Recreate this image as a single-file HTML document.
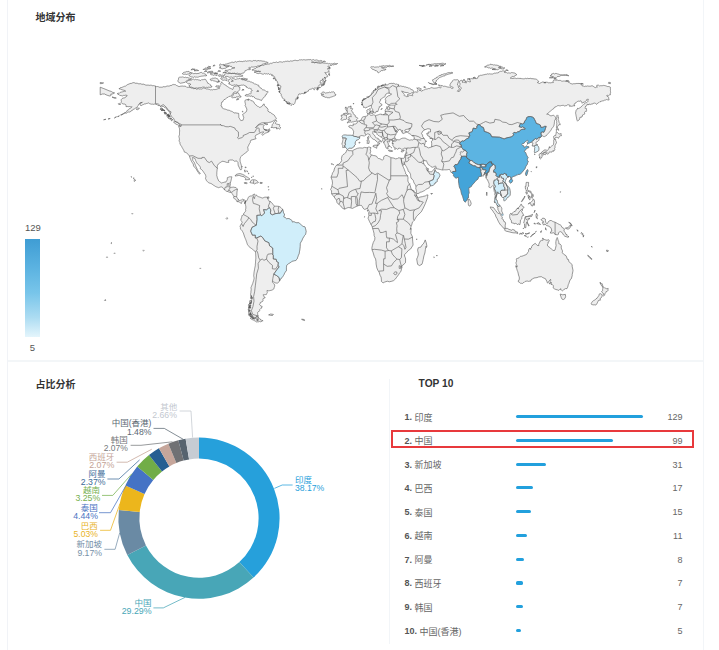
<!DOCTYPE html>
<html><head><meta charset="utf-8"><style>
*{margin:0;padding:0;box-sizing:border-box}
html,body{width:719px;height:650px;overflow:hidden;background:#fff;font-family:"Liberation Sans","Noto Sans CJK SC",sans-serif}
.ab{position:absolute}
.vl{position:absolute;width:1px;background:#f1f3f7}
.hl{position:absolute;height:2px;background:#f3f6f8}
.ttl{position:absolute;font-size:10px;font-weight:bold;color:#333;line-height:12px;white-space:nowrap}
.rk{position:absolute;left:404.5px;font-size:9px;line-height:12px;color:#666;white-space:nowrap}
.rk b{color:#555}
.rk span{position:relative;top:0.5px}
.bar{position:absolute;left:516px;height:3.1px;border-radius:1.6px;background:#22a0dd}
.val{position:absolute;right:36.6px;font-size:9px;line-height:12px;color:#666;text-align:right}
.pl{font-size:8.5px;font-family:"Liberation Sans","Noto Sans CJK SC",sans-serif}
.pp{font-size:9px;font-family:"Liberation Sans","Noto Sans CJK SC",sans-serif}
svg{position:absolute;left:0;top:0}
</style></head><body>
<div class="vl" style="left:7px;top:0;height:650px"></div>
<div class="vl" style="left:703px;top:0;height:650px;background:#f2f5f8"></div>
<div class="hl" style="left:8px;top:360px;width:695px"></div>
<div class="vl" style="left:389px;top:379px;height:265px;background:#f2f5f8"></div>
<div class="ttl" style="left:35.5px;top:11.5px">地域分布</div>
<svg width="719" height="360" viewBox="0 0 719 360">
<path d="M346.9,149.8L347.8,149.8L348.8,150.8L350.2,150.6L352.2,150.9L354.0,149.8L356.0,148.9L357.4,148.3L359.8,147.9L362.8,148.1L364.4,147.4L366.2,147.7L367.2,147.7L368.8,147.0L369.8,147.2L371.0,147.7L370.3,149.6L370.7,151.7L369.9,153.6L371.0,154.5L371.6,154.9L373.2,155.5L375.0,155.7L376.7,156.4L377.4,157.7L378.5,158.5L379.8,158.7L381.4,159.6L382.4,160.2L383.6,158.9L383.6,157.2L384.5,156.0L385.8,155.3L387.7,155.8L388.6,156.4L390.3,157.2L391.0,157.7L393.8,158.1L395.7,158.9L397.4,158.5L398.0,157.9L399.8,157.9L401.1,158.3L401.5,161.1L401.5,162.4L402.3,164.7L402.9,166.2L403.6,167.7L404.3,169.4L405.0,171.3L405.6,172.4L405.6,173.8L407.3,175.3L407.6,176.0L408.0,177.7L407.9,179.6L407.9,181.1L408.4,182.2L409.0,183.6L409.7,184.1L410.6,187.0L411.0,189.0L413.3,190.7L413.7,190.3L414.2,191.9L415.4,192.4L415.9,193.2L416.7,193.9L415.8,195.6L416.8,195.6L417.2,196.8L418.5,197.7L419.9,197.1L422.7,196.6L423.9,196.2L425.2,196.0L426.4,195.2L428.0,194.9L427.6,196.6L427.7,197.3L426.7,200.0L425.4,203.5L423.3,208.1L421.3,211.8L417.8,215.2L416.4,216.7L414.2,220.5L413.4,221.3L412.4,222.2L411.6,225.4L411.1,226.3L410.3,229.6L411.0,230.5L410.8,233.3L412.4,236.7L412.7,241.1L413.1,245.0L410.6,249.0L408.3,250.5L406.7,252.5L404.5,254.6L404.6,256.1L405.2,257.5L405.6,259.0L405.5,262.7L402.9,265.2L401.8,265.7L401.9,266.7L401.5,269.1L400.9,271.6L399.7,272.7L398.5,274.8L396.7,277.2L395.5,278.9L393.6,280.6L391.9,281.2L389.3,281.8L387.3,281.2L384.6,282.1L383.1,282.9L382.1,282.1L381.4,281.4L381.4,279.9L381.1,277.1L380.0,275.2L379.1,272.0L378.0,270.6L376.8,267.8L376.1,264.0L376.0,261.6L375.6,259.0L374.3,256.7L373.0,252.2L372.0,249.9L371.9,247.8L372.4,245.4L373.3,242.4L374.1,240.9L374.7,239.9L374.9,237.5L374.1,235.6L374.0,233.3L373.3,230.5L372.7,228.8L372.2,226.7L371.0,224.3L369.5,221.6L368.5,219.2L368.1,218.4L368.5,216.7L368.9,215.4L368.6,213.2L369.2,211.5L368.3,209.9L367.8,209.0L367.3,208.3L365.9,209.0L364.8,209.4L364.2,209.2L363.0,208.1L362.4,206.7L361.4,205.4L360.4,205.4L359.1,205.4L356.9,206.2L354.6,207.3L352.5,208.4L350.6,207.9L348.8,207.5L347.1,207.9L346.1,208.4L344.7,209.2L342.5,208.3L340.8,206.0L339.1,204.5L337.7,203.5L337.0,202.6L336.6,200.5L335.9,199.4L334.9,198.1L333.9,196.6L333.2,195.6L331.8,194.3L331.5,192.4L331.6,190.9L330.6,189.6L331.4,187.9L331.9,186.0L332.5,183.2L332.2,180.4L331.1,177.7L331.4,176.0L332.2,174.5L332.2,173.9L332.9,172.4L333.9,171.1L334.3,169.0L334.9,167.7L335.6,166.4L336.7,165.1L337.4,164.5L338.7,164.3L340.6,162.4L341.7,160.6L341.4,158.5L342.1,155.8L343.0,154.7L344.4,153.8L345.5,153.0L346.5,151.1L346.9,149.8ZM118.8,116.5L117.5,116.6L119.4,115.7ZM116.5,116.8L114.4,118.0L115.5,117.2ZM110.2,118.5L108.0,119.1L108.7,118.7ZM105.9,119.3L103.6,119.8L104.8,119.5ZM121.6,115.1L120.6,114.9L122.2,114.4ZM220.7,71.2L217.9,71.4L218.6,70.5ZM486.7,192.0L487.1,193.7L486.8,195.6L486.4,194.3ZM263.9,123.2L267.9,124.2L266.7,124.7L264.3,123.8ZM516.0,259.3L517.0,258.4L517.7,258.4L519.0,257.8L520.7,256.1L521.7,256.3L523.6,255.6L526.6,254.4L527.7,252.5L528.5,251.6L528.6,249.9L529.6,248.2L530.7,249.5L530.3,248.6L531.4,248.0L531.6,246.7L532.7,245.0L534.0,244.3L535.1,243.3L536.3,244.3L537.2,245.4L538.9,245.6L538.7,244.4L540.4,240.9L541.2,240.3L541.9,240.5L543.2,240.1L543.2,239.2L542.1,238.6L542.9,238.2L544.5,239.5L545.7,239.9L547.0,240.3L548.0,239.9L548.7,239.7L549.3,240.7L548.4,242.4L547.9,242.4L548.2,243.1L547.2,245.0L548.4,246.7L549.6,247.3L551.3,249.0L552.7,250.1L554.0,250.7L555.0,250.1L555.5,248.2L556.1,245.6L555.8,243.1L555.9,241.6L556.2,239.9L556.7,238.6L557.2,237.5L557.6,238.4L557.8,239.5L558.1,239.7L558.2,240.5L558.6,241.4L558.8,242.6L558.8,243.7L560.2,244.1L561.3,245.6L561.2,248.0L561.6,249.0L562.5,250.9L562.3,252.7L563.5,254.1L566.1,255.8L567.4,259.3L568.0,259.0L568.6,259.9L568.8,261.6L570.1,262.7L572.2,264.6L572.1,266.1L573.0,270.3L572.8,271.8L572.2,274.6L572.2,275.7L571.3,278.8L570.3,279.5L569.7,281.0L569.3,282.0L568.8,283.7L568.3,284.6L568.0,285.9L567.7,287.2L567.0,288.6L565.4,288.6L564.2,289.3L563.5,290.1L562.6,290.8L561.5,290.1L560.6,289.7L560.8,288.7L560.1,289.1L558.8,290.4L557.5,289.9L555.9,289.5L554.5,288.9L553.1,287.8L553.4,286.3L553.1,285.3L552.4,284.6L551.0,284.4L551.4,283.8L551.1,282.1L550.4,283.5L549.1,283.8L550.0,282.7L550.1,281.6L550.7,280.6L550.6,279.3L548.6,281.6L547.9,283.1L546.9,282.3L546.9,281.2L546.0,279.9L545.6,278.8L545.6,278.8L542.8,277.6L541.4,276.7L538.8,276.9L537.0,277.6L534.0,278.0L532.6,278.9L531.3,279.5L530.6,281.2L529.3,281.2L528.5,281.4L527.2,281.0L526.2,281.2L525.2,281.4L524.3,282.3L523.2,282.7L522.5,283.5L521.5,283.3L520.5,283.3L519.1,282.1L518.3,281.8L518.3,280.6L519.2,280.1L519.2,279.3L519.4,278.0L519.2,276.9L518.5,275.0L518.3,273.9L518.1,272.9L517.7,271.6L517.7,271.0L517.1,270.3L516.8,268.8L516.1,267.3L515.8,266.5L516.6,267.3L516.0,265.6L517.1,266.9L517.1,265.9L516.4,264.4L516.3,263.9L516.0,263.3L516.1,262.2L516.4,261.8L516.6,260.8L516.4,259.7L516.0,259.3ZM229.2,66.1L228.5,66.6L227.7,66.9L226.9,67.0L226.4,67.8L225.6,68.2L224.7,68.4L223.7,68.5L222.8,68.8L221.9,68.8L221.0,68.3L220.2,67.9L219.3,67.8L220.2,67.9L221.0,67.4L220.2,66.8L219.9,65.9L219.6,65.0L219.9,64.2L220.7,64.0L221.5,64.6L222.3,64.7L223.4,64.4L224.0,65.5L224.9,65.4L225.7,65.9L226.6,65.8L227.5,65.9L228.4,65.7L229.2,66.1ZM268.2,91.8L267.8,92.4L267.3,92.9L267.0,93.6L266.3,94.1L266.1,95.0L265.3,95.3L265.2,96.3L264.4,96.8L263.8,97.4L263.4,98.2L262.8,98.7L262.1,99.2L261.8,99.9L261.5,100.6L260.7,100.2L259.8,99.8L258.9,99.5L258.1,99.1L257.1,99.2L256.3,98.7L255.4,98.4L254.7,98.0L254.4,97.2L253.7,96.6L252.6,96.9L252.1,96.0L251.2,95.9L250.2,96.4L249.3,95.9L248.3,96.1L247.5,96.2L246.7,96.1L245.9,95.6L245.1,95.9L245.4,95.1L246.0,94.6L246.9,94.4L247.8,94.7L248.7,94.2L249.5,93.7L250.4,94.0L251.0,93.3L251.1,92.6L250.9,91.8L251.4,90.9L252.3,90.6L251.8,90.0L251.2,89.5L251.2,88.7L250.3,88.7L249.5,88.2L248.5,88.4L247.8,87.7L246.9,87.6L246.3,87.2L246.5,86.5L245.6,86.4L245.2,85.5L244.3,85.4L243.6,85.0L242.7,85.2L241.8,85.1L240.9,85.3L240.0,85.5L239.1,85.5L238.2,85.9L237.4,85.1L236.5,84.8L235.6,85.2L234.7,84.8L233.8,85.1L232.9,85.4L232.0,85.4L231.1,85.1L230.4,84.5L229.5,84.2L228.6,84.0L229.0,83.2L229.9,82.9L229.0,82.4L228.4,81.7L227.8,81.0L228.2,80.5L228.8,80.0L228.9,79.3L229.8,79.2L230.6,78.6L231.7,79.2L232.5,78.7L233.4,78.6L234.1,78.9L235.0,79.0L235.6,79.5L236.4,79.2L237.3,78.8L238.3,78.9L239.1,78.4L240.0,78.3L240.6,79.0L241.5,79.0L242.1,79.7L242.9,79.9L243.9,79.7L244.7,80.1L245.5,80.4L246.5,80.6L247.3,81.1L248.3,81.2L249.2,81.1L249.9,81.7L250.7,82.0L251.7,82.1L252.6,82.7L253.4,82.9L254.0,83.4L254.5,84.1L255.4,84.0L256.3,84.3L257.1,85.0L258.1,85.0L258.8,85.4L258.7,86.5L259.5,86.9L260.2,87.4L260.6,88.2L261.5,88.4L261.9,89.2L262.6,89.8L263.5,89.9L264.5,89.9L265.1,90.6L265.7,91.2L266.5,91.6L267.4,91.4L268.2,91.8ZM245.1,167.0L246.2,167.2L245.9,167.9L244.9,167.3ZM244.8,169.8L245.3,171.5L245.1,172.2L244.5,170.6ZM358.7,142.7L359.8,142.1L360.1,142.7L359.4,143.0ZM185.0,82.3L184.0,82.6L183.1,82.7L182.1,83.0L181.1,83.1L180.2,83.3L179.4,82.8L178.7,82.0L177.9,81.6L177.9,80.6L178.4,79.7L178.5,78.8L178.7,77.7L179.6,77.2L180.6,77.1L181.6,77.1L182.6,76.9L183.6,77.2L184.5,77.5L185.6,77.2L186.5,77.6L187.5,77.4L188.2,78.1L189.2,77.7L189.9,78.6L190.7,78.8L191.6,78.8L190.7,78.9L190.1,79.8L189.1,79.7L188.2,79.9L187.4,80.3L186.8,80.9L186.0,81.2L185.7,81.9L185.0,82.3ZM217.1,75.5L216.2,75.4L215.3,75.1L214.3,74.9L213.3,75.4L212.4,74.8L211.5,75.0L210.9,74.2L210.1,73.7L211.1,73.7L212.0,73.1L213.0,72.9L214.0,73.1L215.0,73.1L215.6,73.7L216.5,73.7L217.1,74.2L217.1,74.9ZM367.3,210.1L367.9,210.5L367.6,211.3ZM509.8,214.5L510.6,213.5L511.7,214.1L512.9,212.6L513.9,211.6L515.4,211.3L516.7,208.8L518.1,208.1L519.0,207.3L520.1,205.8L520.8,204.3L521.5,204.3L522.1,206.0L522.9,206.6L524.2,207.1L523.2,208.1L522.5,209.2L522.4,210.7L521.5,211.3L522.5,213.0L523.8,215.4L522.5,215.6L521.8,217.1L521.8,218.8L520.4,220.1L520.4,222.0L519.8,224.8L519.0,224.1L518.1,223.9L517.5,224.7L516.6,223.7L515.8,223.3L514.1,223.9L513.6,223.0L512.6,223.0L511.5,222.8L511.3,220.3L510.6,219.8L509.9,218.2L509.6,216.5L509.9,214.8L509.8,214.5ZM534.8,223.1L535.5,224.1L533.8,223.5ZM332.9,164.1L333.5,164.7L333.1,164.9ZM331.4,163.6L332.3,163.8L331.8,164.5ZM268.3,129.6L269.4,128.7L270.0,130.8L268.2,131.3ZM321.7,188.5L322.0,189.2L321.7,189.2ZM100.2,87.2L103.8,88.6L107.0,89.9L109.0,90.8L111.3,91.4L112.1,92.1L114.6,92.9L113.1,93.8L110.7,94.2L111.2,95.2L110.0,96.1L107.9,95.5L106.0,94.8L104.6,94.0L102.4,94.0L100.2,94.8ZM239.1,98.9L236.6,100.1L237.0,98.7ZM416.7,238.8L416.9,239.7L416.5,239.5ZM223.5,76.5L222.5,76.4L221.5,76.5L220.6,76.0L219.5,76.4L218.6,76.1L218.7,75.5L218.8,74.8L219.8,74.7L220.8,74.8L221.8,75.4L222.8,75.0L223.5,75.6ZM367.6,137.0L368.6,136.2L368.9,137.8L368.3,139.3L367.6,138.5ZM388.7,150.0L392.6,150.8L392.4,151.4L390.3,151.5L388.6,150.8ZM235.0,176.0L236.1,174.5L238.0,173.9L240.2,173.6L242.4,174.3L244.5,175.3L245.8,176.4L247.6,177.3L250.0,179.0L249.3,179.6L245.3,179.8L245.6,178.5L244.2,176.8L241.4,176.2L239.5,175.5L238.5,175.5L236.6,175.8L235.0,176.0ZM401.1,151.1L402.1,150.6L404.3,150.0L403.5,151.3L402.1,152.1L401.1,151.5ZM242.6,76.3L241.7,76.4L240.8,76.4L239.9,76.2L239.0,76.3L238.1,76.4L237.2,76.9L236.3,76.9L235.3,76.5L234.4,77.0L233.4,77.1L232.5,77.4L231.5,77.0L230.6,77.1L229.7,77.3L228.9,77.1L228.1,76.7L227.2,76.4L226.4,76.4L225.5,76.5L224.8,76.1L224.3,75.6L224.2,74.8L224.8,74.1L225.7,73.8L226.4,73.3L227.2,73.6L228.1,73.6L229.0,73.7L229.9,73.3L230.7,73.4L231.6,73.5L232.5,73.2L233.3,73.3L234.1,73.5L235.0,73.4L235.8,73.9L236.6,74.1L237.4,74.3L238.3,74.3L239.1,74.6L240.0,74.7L240.9,74.7L241.7,75.3L242.6,75.2L242.6,75.7L242.6,76.3ZM207.9,69.3L206.9,69.4L205.9,69.3L204.9,69.3L203.9,69.3L203.0,69.7L203.6,69.1L204.6,69.1L205.1,68.3L205.8,67.8L206.8,68.2L207.8,68.3L208.7,68.5L209.8,68.1L210.8,68.4L209.9,68.8L208.8,68.8ZM268.2,62.5L267.4,63.1L266.4,62.9L265.7,63.7L264.8,63.5L263.9,63.8L263.1,64.2L262.2,64.4L261.5,65.0L260.9,65.7L260.0,65.4L259.3,65.9L258.5,65.9L257.5,66.0L256.6,66.5L255.6,66.6L254.7,66.9L253.8,67.0L252.9,67.1L252.0,67.0L251.1,67.0L250.4,67.7L249.4,67.4L248.6,67.8L249.1,68.6L250.1,68.6L250.7,69.1L249.9,69.7L249.0,69.5L248.2,69.7L247.3,69.7L246.6,70.2L245.9,70.7L245.1,70.6L244.9,71.6L244.3,72.1L243.9,72.9L243.1,73.3L242.0,73.1L241.2,73.7L240.2,73.9L239.3,73.5L238.3,73.7L237.3,73.1L236.3,73.5L235.3,73.8L234.4,73.1L233.5,73.5L232.5,73.5L231.6,73.6L230.6,73.3L229.7,72.9L228.8,73.3L228.3,72.5L227.7,71.7L226.8,71.2L225.8,71.0L224.9,70.6L225.8,70.2L226.7,70.3L227.6,70.2L228.5,69.9L229.3,69.5L230.4,69.8L231.2,69.1L232.0,68.5L232.9,68.3L233.8,67.9L234.9,67.8L233.9,67.9L232.9,67.8L232.0,67.3L231.5,66.9L231.3,66.3L230.4,66.4L229.4,65.9L228.5,66.2L227.5,66.1L226.6,66.3L225.6,66.1L224.8,66.0L224.3,65.3L223.5,65.0L224.5,64.9L225.3,64.0L226.4,64.0L227.2,63.9L228.0,63.3L229.0,63.4L229.7,62.9L230.6,62.7L231.4,62.3L232.2,62.1L233.2,62.5L234.0,62.2L234.9,62.0L235.7,61.5L236.7,62.2L237.5,61.6L238.4,61.5L239.2,61.2L240.2,61.4L241.1,61.5L241.9,61.4L242.9,61.7L243.8,61.1L244.8,61.2L245.7,60.8L246.7,61.3L247.6,60.9L248.5,60.9L249.5,60.7L250.4,60.8L251.4,61.1L252.3,61.2L253.3,60.5L254.2,60.7L255.2,60.4L256.1,60.9L257.1,61.1L258.0,60.3L258.9,60.7L259.9,60.9L260.9,60.7L261.9,61.0L262.9,61.2L263.9,61.2L264.8,61.4L265.6,61.9L266.5,61.9L267.3,62.3L268.2,62.5ZM347.4,149.4L346.9,148.9L346.4,148.3L345.9,147.7L345.5,147.2L344.8,147.2L343.8,147.4L342.7,147.6L342.7,146.7L342.8,145.9L342.8,145.1L342.3,144.6L341.8,144.2L342.1,143.4L342.3,142.7L342.5,141.9L342.7,141.1L342.8,140.4L343.0,139.6L342.8,138.8L342.7,137.9L342.4,137.2L342.1,136.4L342.8,135.8L343.5,135.1L344.5,135.1L345.4,135.1L346.4,135.2L347.5,135.3L348.4,135.3L349.3,135.3L350.2,135.3L351.0,135.4L351.9,135.4L352.7,135.5L353.1,134.6L353.5,133.8L353.5,132.9L353.6,132.0L353.6,131.2L353.2,130.5L352.8,129.8L352.5,129.1L351.9,128.3L351.0,128.0L350.1,127.6L349.2,127.2L348.9,126.6L348.6,126.1L349.6,125.7L350.6,125.3L351.5,125.5L352.3,125.7L353.3,125.5L353.2,124.7L353.0,123.8L353.6,124.2L354.5,124.1L355.4,124.0L356.3,123.5L357.1,123.1L357.4,122.2L357.6,121.4L358.2,121.2L358.8,121.0L359.6,120.7L360.3,120.4L360.8,119.9L361.4,119.5L361.7,118.5L362.0,117.6L362.5,117.2L363.1,116.8L364.1,116.6L365.1,116.5L365.8,116.3L366.5,116.1L367.5,115.7L367.9,114.9L367.7,114.2L367.5,113.4L367.3,112.9L366.8,112.5L367.1,111.6L366.8,110.6L367.0,110.0L367.5,109.7L368.6,109.4L369.5,108.7L370.3,108.5L370.1,109.1L370.2,109.7L370.0,110.2L369.8,110.8L370.6,111.4L369.9,111.6L369.6,112.3L369.2,112.7L368.9,113.2L369.2,113.8L369.5,114.4L370.2,114.9L370.9,115.5L371.7,115.3L372.6,115.1L373.2,114.9L373.7,114.8L374.3,115.0L374.9,115.3L375.4,115.7L376.3,115.4L377.3,115.1L378.3,114.8L379.2,114.4L380.3,114.2L381.4,114.0L381.7,114.8L382.4,114.7L383.2,114.6L384.2,114.2L385.2,113.8L385.3,113.1L385.3,112.3L385.3,111.5L385.1,110.8L385.4,109.9L385.9,109.1L386.4,108.4L387.3,108.3L387.5,109.3L388.3,109.9L388.8,109.3L389.4,109.5L389.4,108.4L389.9,107.4L389.2,107.1L388.6,106.8L388.4,106.3L388.6,105.7L389.6,105.5L390.5,105.2L391.4,105.0L392.5,105.1L393.6,105.1L394.7,105.1L395.4,104.7L396.2,104.4L397.1,104.4L396.7,103.9L396.1,103.6L395.4,103.5L394.7,103.3L393.8,103.3L392.9,103.4L391.7,103.3L390.7,103.8L389.8,104.5L388.8,104.5L387.7,104.6L387.2,103.6L386.4,103.3L385.6,103.1L385.4,102.0L385.9,101.0L385.7,100.1L385.2,99.3L385.5,98.6L385.9,98.0L386.4,97.3L387.2,96.8L387.8,96.1L388.7,95.7L389.7,95.6L390.3,94.8L391.3,94.6L391.2,93.6L390.5,93.8L390.0,93.3L389.0,93.0L387.9,93.3L387.3,93.3L386.8,93.6L385.9,94.1L385.5,95.0L385.2,95.6L385.2,96.3L384.3,97.0L383.4,97.4L382.5,98.0L381.7,98.7L380.8,99.0L380.4,99.9L380.4,100.9L379.7,101.6L379.5,102.3L379.8,102.9L380.5,103.6L381.4,104.0L381.9,104.4L382.1,105.1L381.1,105.4L380.7,106.3L379.9,106.7L379.1,106.8L379.3,107.9L378.7,108.7L378.5,109.8L378.0,110.8L377.8,111.6L377.0,111.4L376.1,111.4L376.0,112.3L375.3,112.9L374.4,112.8L373.6,112.9L373.3,112.2L373.2,111.6L372.8,110.8L372.7,110.0L372.6,109.2L372.0,108.5L371.7,107.8L371.2,107.2L371.4,106.5L370.9,105.9L370.2,105.3L369.8,106.1L368.8,106.3L367.8,106.6L367.2,107.4L366.1,107.4L365.2,108.0L364.5,107.4L363.5,107.4L363.6,106.7L363.1,106.1L362.5,105.1L362.4,104.2L362.4,103.3L362.0,102.4L362.2,101.6L362.4,100.8L362.7,100.1L363.4,99.8L364.1,99.3L365.2,99.2L365.9,98.4L366.8,98.0L367.5,97.4L368.4,97.1L369.2,96.7L369.5,95.9L370.3,95.5L371.1,95.0L371.7,94.2L372.2,93.3L373.2,92.9L373.5,91.9L374.3,91.2L374.6,90.4L375.6,90.2L376.0,89.5L376.7,89.3L377.0,88.6L377.9,88.2L378.8,87.6L379.5,86.7L380.5,86.3L381.6,86.2L382.5,85.7L383.2,85.3L384.1,85.5L384.8,85.2L385.9,85.1L386.9,84.8L387.8,84.8L388.5,84.2L389.3,83.6L390.3,83.5L391.2,83.3L392.1,83.5L393.0,83.4L393.8,83.3L394.6,83.7L395.4,84.2L396.4,84.0L397.3,84.4L398.3,84.4L399.1,85.0L398.5,85.5L397.8,85.9L398.7,85.6L399.5,86.3L400.4,85.9L401.3,86.1L402.2,86.5L403.2,86.2L404.0,86.9L404.9,86.9L405.9,87.0L406.8,87.5L407.7,87.6L408.4,88.1L409.4,87.9L410.0,88.6L410.7,89.0L411.2,89.6L412.1,89.7L412.9,90.1L413.4,90.8L413.7,91.8L413.2,92.4L412.5,92.7L411.5,92.9L410.6,93.5L409.5,93.6L408.6,93.1L407.8,92.6L406.9,92.7L405.9,92.4L404.9,92.5L404.0,91.8L402.9,91.8L402.3,91.1L401.5,91.0L402.0,91.7L402.6,92.2L403.1,92.9L403.6,93.5L404.0,94.2L404.6,94.8L404.2,95.3L404.6,95.9L405.5,96.0L406.2,96.5L407.0,96.8L407.8,96.4L408.6,96.1L407.7,95.8L407.0,95.2L407.4,94.6L408.2,94.4L408.9,95.0L409.9,95.2L410.8,95.4L411.8,95.5L412.5,95.7L413.1,95.5L412.5,95.0L412.3,94.2L412.9,93.6L413.3,92.9L414.1,92.5L414.5,92.0L415.1,91.9L416.2,91.9L417.2,92.5L417.8,91.9L417.8,91.1L417.5,90.3L418.0,89.5L417.9,88.6L417.3,88.2L416.7,88.0L417.7,88.3L418.8,87.8L419.9,88.2L420.5,88.5L421.2,88.7L421.2,89.5L420.3,90.1L419.2,90.1L419.9,90.5L420.7,90.6L421.3,91.2L422.0,90.6L423.0,90.6L423.6,89.9L424.6,89.7L425.4,89.2L426.4,89.1L427.4,88.9L428.4,88.5L429.5,88.6L430.4,88.2L430.8,87.7L431.3,87.4L431.7,87.9L432.4,87.8L433.2,88.1L434.1,88.2L434.9,88.2L435.7,88.1L436.5,88.0L437.4,87.8L438.3,87.4L439.3,87.4L440.0,88.0L440.9,87.7L441.5,87.0L441.1,86.5L440.6,86.1L441.0,85.6L441.6,85.5L442.5,85.7L443.4,86.3L444.3,86.2L445.3,86.3L446.2,86.6L447.1,86.9L448.2,87.1L449.2,87.2L450.1,87.2L450.8,87.8L451.4,88.3L452.1,88.7L452.7,88.3L453.4,88.0L452.9,87.3L452.2,86.9L451.2,86.6L450.2,86.1L449.9,85.2L450.1,84.2L450.6,83.8L450.7,83.1L451.3,82.3L452.2,81.8L452.6,80.7L453.4,79.9L454.2,79.7L455.2,80.0L456.0,79.5L456.8,79.9L457.7,79.7L458.5,80.3L458.6,81.2L458.2,82.0L458.0,82.9L458.0,83.7L457.3,84.0L457.9,85.0L458.3,85.9L458.3,87.0L458.7,87.9L459.6,88.4L459.1,88.9L459.2,89.7L458.4,90.0L457.9,90.6L457.3,91.2L458.2,91.1L458.7,91.8L459.1,91.1L460.0,90.8L460.3,90.1L460.5,89.1L461.3,88.6L461.1,88.0L460.9,87.4L460.4,86.9L459.7,86.9L459.5,86.1L459.7,85.4L460.0,84.5L460.4,83.8L459.8,83.2L459.0,82.7L459.6,82.1L459.6,81.2L460.3,80.6L461.2,80.6L461.9,80.1L462.4,80.5L462.4,81.2L462.5,81.9L462.0,82.3L462.8,82.2L463.5,82.2L464.3,82.5L465.0,82.6L465.8,82.7L466.5,82.9L466.0,82.2L465.5,81.6L464.7,81.2L465.5,81.4L466.3,81.4L467.1,81.0L468.0,81.0L468.7,81.5L469.5,81.8L470.4,81.8L470.3,80.8L469.7,80.1L469.5,79.3L469.5,78.6L470.4,78.9L471.2,78.5L472.1,78.9L472.9,78.6L473.9,78.6L474.8,78.1L475.8,78.7L476.8,78.5L477.7,78.2L477.8,77.6L477.7,77.1L478.5,76.6L478.7,75.7L479.8,75.8L480.7,75.2L481.6,75.3L482.4,75.1L483.3,74.8L484.2,74.8L485.0,74.2L485.9,74.4L486.8,74.2L487.7,73.8L488.7,74.1L489.7,73.8L490.6,74.0L491.7,74.0L492.8,74.0L493.7,73.5L494.7,73.1L495.7,73.2L496.6,72.9L497.6,72.9L498.4,72.7L498.7,72.0L499.6,71.7L500.4,71.3L501.4,71.4L502.2,71.0L503.1,70.8L503.9,71.0L504.7,71.2L505.5,71.4L504.9,72.0L504.1,72.2L505.0,72.1L505.8,72.7L506.7,72.6L507.5,73.1L508.5,72.9L509.6,73.0L510.6,73.1L511.7,72.5L512.7,72.7L513.8,72.9L514.9,73.1L515.8,73.7L516.4,74.2L516.6,75.0L515.6,75.2L515.0,76.1L514.0,76.2L513.2,76.9L512.1,76.4L511.3,77.1L510.9,77.7L510.3,78.2L511.2,78.3L512.0,78.4L513.0,78.5L514.0,78.2L514.9,78.1L515.8,78.3L516.7,78.6L517.5,78.3L518.3,78.4L519.1,78.2L520.0,78.7L521.0,78.1L521.8,78.9L522.7,78.7L523.6,78.8L524.7,78.7L525.7,78.3L526.8,78.7L527.8,78.2L528.9,78.7L529.9,78.4L530.9,78.3L531.9,78.8L533.0,78.6L534.0,79.0L535.1,78.9L535.9,79.2L536.7,79.4L537.4,79.9L537.8,80.5L538.4,81.0L538.8,81.6L538.1,82.0L537.4,82.3L537.9,83.1L538.9,83.0L539.5,83.5L540.2,83.0L541.1,82.9L541.7,82.3L542.5,82.0L543.3,82.0L544.1,82.4L544.9,82.7L545.7,82.3L546.6,82.2L547.4,82.3L548.3,82.8L549.2,82.7L550.1,82.9L551.2,82.7L552.3,82.6L553.4,82.5L553.0,81.7L553.1,80.8L553.9,80.3L554.7,79.9L555.7,80.1L556.6,80.2L557.5,80.1L558.4,80.5L559.3,80.4L560.4,80.4L561.4,81.0L562.4,81.2L563.5,81.0L564.4,81.0L565.3,81.2L566.2,80.9L567.1,81.2L567.7,81.8L568.4,82.3L569.3,82.6L570.1,83.1L570.9,83.7L571.8,83.8L572.9,84.1L573.8,83.6L574.9,83.8L575.9,83.6L576.9,83.4L577.9,83.5L579.0,83.4L580.0,83.6L581.0,83.9L581.9,84.4L582.0,85.2L582.0,85.9L582.8,85.9L583.6,86.1L584.3,86.5L585.1,86.2L586.0,86.1L586.9,86.3L587.7,85.9L588.8,86.2L589.8,86.2L590.9,86.1L592.0,85.7L593.1,86.1L593.8,86.8L594.7,87.3L595.6,87.6L596.4,87.1L597.3,87.2L596.8,86.3L596.8,85.2L597.7,85.2L598.6,85.2L599.4,85.9L600.4,85.7L601.3,85.7L602.3,85.7L603.3,85.4L604.3,85.5L605.3,85.7L606.3,86.0L607.3,86.5L608.4,86.5L609.4,86.7L610.4,87.2L610.4,88.3L610.5,89.4L610.4,90.5L610.5,91.5L610.6,92.6L610.3,93.7L610.4,94.8L609.3,95.0L608.5,95.7L607.6,95.3L606.7,95.5L607.1,96.3L608.0,96.5L608.5,97.2L608.8,98.0L608.7,99.0L609.2,99.9L608.3,100.0L607.5,99.8L606.7,99.5L605.8,100.0L604.7,100.1L603.8,100.7L602.7,100.8L602.1,101.1L601.4,101.0L600.9,101.7L599.9,101.7L599.3,102.3L598.5,102.7L597.9,103.2L597.2,103.6L596.6,104.4L596.0,103.9L595.5,103.3L594.6,103.1L593.6,103.1L592.9,104.0L591.8,103.9L590.9,104.6L590.1,104.2L589.2,104.0L589.0,104.8L588.0,104.4L587.0,104.4L587.0,105.1L586.6,105.7L585.7,106.1L585.5,107.0L584.9,107.6L585.0,108.3L585.9,108.2L586.6,108.7L586.5,109.6L586.6,110.5L586.4,111.4L585.7,111.3L585.0,111.6L584.6,112.3L584.4,113.1L585.0,113.8L584.2,114.2L583.4,114.6L582.6,114.9L582.3,116.0L582.0,117.0L581.0,117.2L579.9,117.4L579.7,118.4L579.5,119.5L578.8,120.0L578.1,120.6L577.5,121.2L577.2,120.5L576.9,119.8L576.7,119.0L576.6,118.1L576.4,117.2L576.2,116.3L576.0,115.4L575.9,114.6L575.7,113.7L575.5,112.9L575.9,112.0L575.9,111.1L576.2,110.2L576.7,109.5L577.5,109.1L577.5,108.3L578.3,108.5L579.1,108.3L579.8,107.8L580.6,107.4L581.2,106.9L581.7,106.1L582.3,105.5L583.2,105.0L583.9,104.3L584.7,103.6L585.4,102.8L586.4,102.7L587.3,102.1L588.0,101.3L587.9,100.2L588.4,99.3L587.5,99.3L586.7,99.5L586.5,100.5L585.8,101.2L584.9,101.6L584.1,102.3L582.9,102.4L582.2,103.3L581.8,102.4L581.5,101.6L581.0,100.8L580.1,101.1L579.2,101.3L578.2,101.1L577.3,101.6L576.6,102.2L575.9,102.7L575.0,103.1L574.7,104.2L573.8,104.6L574.5,105.2L574.9,105.9L573.9,105.7L572.8,106.0L571.8,106.3L570.7,106.1L569.7,106.5L569.8,105.8L569.7,105.1L568.7,104.8L567.6,104.8L566.8,105.5L565.7,105.7L564.6,106.0L563.6,105.4L562.5,105.4L561.5,105.5L560.6,105.8L559.6,105.8L558.6,105.6L557.7,105.7L556.8,106.1L556.1,106.8L555.0,107.0L554.2,107.6L553.8,108.6L552.9,109.1L552.1,109.7L551.4,110.3L550.6,111.0L549.8,111.6L549.0,112.3L548.3,112.9L547.5,113.5L546.7,114.2L547.5,114.3L548.2,114.3L549.0,114.4L549.4,114.9L549.7,115.5L550.4,115.7L551.1,115.9L551.9,115.6L552.7,115.4L553.5,115.1L554.2,115.8L554.9,116.5L555.5,117.2L555.6,118.1L555.7,118.9L555.1,119.8L554.5,120.8L554.5,121.5L554.4,122.3L554.4,123.1L554.2,124.1L554.0,125.1L553.8,126.1L553.3,126.7L552.8,127.4L552.2,128.0L551.7,128.7L551.4,129.4L551.1,130.0L550.5,130.8L549.9,131.5L549.3,132.3L548.6,133.0L548.0,133.7L547.3,134.4L546.9,134.9L546.5,135.5L545.8,135.9L545.1,136.2L544.5,136.6L543.6,136.6L543.2,136.2L542.8,135.7L542.1,136.1L541.4,136.6L540.8,137.0L540.4,137.4L539.9,137.8L539.5,138.1L538.9,138.9L539.0,139.5L539.1,140.2L538.4,140.6L538.0,141.1L537.5,141.5L536.7,141.9L536.0,142.3L535.9,142.8L535.8,143.4L536.5,144.0L537.1,144.5L537.5,145.5L538.0,146.1L538.4,146.8L538.6,147.4L538.8,147.9L538.8,148.7L538.8,149.4L538.8,150.2L538.2,151.1L537.6,151.3L537.0,151.5L536.4,151.9L535.8,152.3L535.2,152.4L534.6,152.5L534.4,151.5L534.6,150.8L534.7,150.0L534.6,149.3L534.6,148.5L535.1,147.7L534.6,147.0L534.1,146.2L533.4,146.0L532.7,146.2L532.9,145.7L532.0,145.5L532.4,144.7L532.7,144.0L533.0,143.0L532.5,142.7L532.0,142.5L531.4,142.1L530.7,142.4L530.0,142.7L529.2,143.0L528.3,143.4L527.8,143.8L527.3,144.2L527.6,143.2L527.3,142.3L527.9,141.7L528.5,141.1L528.0,140.7L527.6,140.2L527.0,140.5L526.5,140.8L525.6,141.4L524.8,142.1L524.3,142.7L523.9,143.4L523.2,143.4L522.5,143.4L522.2,143.9L521.8,144.4L522.2,144.9L522.5,145.5L523.1,145.7L523.8,145.9L523.9,146.5L523.9,147.2L524.9,147.4L525.7,146.7L526.5,146.0L527.1,146.3L527.7,146.6L528.3,146.7L528.9,146.8L528.7,147.7L527.8,147.9L526.9,148.1L526.5,148.7L526.2,149.3L525.6,149.7L524.9,150.2L524.6,150.9L524.2,151.5L524.9,152.0L525.6,152.5L525.9,153.4L526.2,154.3L526.6,155.2L527.0,156.0L527.5,156.8L528.0,157.5L527.6,158.5L527.2,159.4L527.3,160.0L527.5,160.6L528.2,161.1L528.0,161.9L527.7,162.6L527.5,163.4L527.3,164.1L526.9,164.8L526.4,165.5L525.9,166.2L525.5,167.1L525.2,168.0L524.8,168.9L524.3,169.4L523.9,170.0L523.6,170.5L523.2,170.9L522.6,171.6L522.1,172.2L521.5,172.8L520.9,173.5L520.4,174.1L519.5,174.3L518.8,174.3L518.0,174.3L517.5,174.8L517.1,175.3L516.6,174.9L516.1,175.3L515.7,175.6L514.9,175.9L514.0,176.2L513.3,176.5L512.6,176.8L511.7,177.3L511.7,178.1L511.7,178.8L511.2,179.0L510.9,178.4L510.6,177.7L511.0,177.0L510.0,176.7L509.0,176.4L508.5,176.8L507.9,177.1L507.4,177.4L506.9,177.7L506.4,178.3L506.1,178.9L505.8,179.6L505.4,180.4L505.1,181.3L505.1,181.9L505.2,182.4L505.8,183.4L506.4,184.3L506.8,185.1L507.3,185.8L508.1,186.6L508.8,187.3L509.2,187.9L509.6,188.5L509.8,189.4L509.9,190.3L510.0,191.1L510.2,192.0L510.1,193.1L510.1,194.2L510.0,195.2L509.5,195.9L508.9,196.6L508.1,197.1L507.2,197.7L506.6,198.5L506.1,199.4L505.5,200.0L504.9,200.5L504.4,201.1L504.1,200.5L503.8,200.0L503.9,199.3L504.1,198.6L503.6,198.1L503.1,197.5L502.5,197.4L502.0,197.3L501.7,196.8L501.4,196.2L501.0,195.2L500.7,194.3L500.0,193.9L499.4,193.5L498.8,193.5L498.1,193.5L498.2,192.8L498.3,192.0L497.7,192.0L497.1,192.0L497.1,193.1L497.0,194.1L496.7,195.1L496.4,196.0L496.1,196.9L495.9,197.9L495.9,198.9L495.9,200.0L496.9,200.0L497.1,200.8L497.4,201.7L497.6,202.5L497.7,203.4L498.1,203.8L498.4,204.3L499.3,204.7L499.6,205.1L500.0,205.6L500.5,206.3L501.1,206.9L501.5,207.5L501.8,208.1L501.8,208.7L501.8,209.4L501.7,210.3L501.8,211.2L502.0,212.0L502.5,212.6L502.7,213.4L503.0,214.3L502.5,214.6L502.0,214.8L501.3,214.2L500.7,213.5L500.1,213.0L499.6,212.5L499.0,212.0L498.8,211.1L498.4,210.5L498.0,209.9L497.9,209.1L497.9,208.3L497.3,207.3L497.4,206.6L497.4,206.0L497.1,205.0L496.6,204.5L496.3,203.5L495.8,202.8L495.3,202.2L494.9,201.5L494.7,202.0L494.6,202.6L494.4,201.7L494.6,201.0L494.7,200.3L494.9,199.5L495.0,198.6L494.9,197.9L494.9,197.1L495.1,196.5L495.3,195.8L495.0,195.2L494.7,194.7L494.8,193.6L494.9,192.6L494.3,191.7L494.2,190.9L494.0,190.2L493.9,189.4L493.8,188.6L493.7,187.8L493.6,187.0L493.3,186.2L493.0,185.4L492.5,185.9L492.0,186.4L491.3,187.0L490.5,187.7L489.6,187.5L488.8,187.1L488.9,186.3L489.1,185.5L489.2,184.7L489.1,183.8L488.9,183.0L488.5,182.2L488.2,181.5L487.8,180.7L488.1,180.2L487.2,179.8L486.7,179.0L486.2,178.3L485.8,177.3L485.7,176.4L485.4,175.5L485.1,174.9L484.8,174.3L484.2,174.3L483.5,174.3L483.7,175.1L483.5,175.6L483.3,176.2L482.5,175.8L482.4,176.0L481.4,175.6L481.3,176.4L480.3,176.4L479.4,176.6L478.6,176.8L478.3,177.6L478.1,178.4L477.9,179.2L477.2,179.7L476.5,180.1L475.9,180.5L475.3,181.3L474.8,182.1L474.2,182.8L473.7,183.4L473.2,183.9L472.5,184.6L471.8,185.3L471.8,186.0L471.1,186.6L470.4,187.0L469.8,187.3L469.1,187.3L468.9,188.1L468.7,188.8L468.8,189.7L468.8,190.5L468.9,191.3L469.0,192.0L469.1,192.8L468.8,193.6L468.5,194.5L468.5,195.6L468.5,196.6L468.5,197.7L467.7,197.9L467.4,198.6L467.1,199.4L467.5,200.0L466.9,200.2L466.3,200.5L466.0,201.1L465.7,201.7L465.1,202.2L464.5,201.4L463.8,200.5L463.6,199.6L463.4,198.8L463.1,197.9L462.9,196.9L462.6,196.0L462.1,195.1L461.8,194.2L461.4,193.4L461.3,192.5L461.1,191.7L461.0,190.9L460.9,190.3L460.7,189.8L460.3,188.9L459.9,188.0L459.4,187.1L459.3,186.2L459.2,185.3L459.0,184.5L458.9,183.6L458.7,182.7L458.6,181.9L458.5,181.1L458.5,180.4L458.5,179.6L458.5,178.8L458.3,177.9L458.2,177.0L457.5,177.3L456.9,177.7L456.2,178.1L455.2,177.7L454.6,177.0L454.0,176.3L453.4,175.6L453.9,174.9L453.5,174.3L453.0,173.8L452.5,173.2L451.9,172.6L451.4,172.4L450.8,172.2L450.6,171.5L450.4,170.7L449.9,170.1L449.4,169.4L448.5,169.5L447.6,169.7L446.7,169.8L445.9,169.8L445.2,169.8L444.4,169.8L443.4,169.9L442.4,170.0L441.5,169.8L440.7,169.6L439.8,169.4L439.0,169.2L438.2,169.0L437.4,168.9L436.6,168.9L436.4,168.1L436.2,167.3L436.0,166.5L435.4,166.2L434.8,166.3L434.2,166.5L433.5,166.9L432.8,167.3L432.0,167.1L431.1,166.8L430.4,166.0L429.7,165.3L429.0,165.0L428.3,164.7L427.9,163.9L427.4,163.0L427.0,162.2L426.7,161.4L426.3,160.6L425.6,160.8L425.1,160.5L424.6,160.2L424.2,160.9L423.3,160.8L423.6,161.7L423.5,162.6L423.8,163.5L424.1,164.3L424.4,165.1L425.2,165.5L425.4,166.2L425.9,166.6L426.4,167.0L426.4,167.7L426.3,168.5L426.6,169.0L426.9,169.6L427.3,170.6L427.7,170.9L428.1,170.9L428.3,170.4L428.4,169.8L428.4,169.2L428.4,168.7L428.0,168.1L427.4,168.3L427.1,169.2L427.3,170.2L427.6,170.9L428.0,171.3L428.4,171.7L429.1,171.7L429.8,171.7L430.8,171.8L431.8,171.9L432.3,171.2L432.8,170.6L433.3,170.0L433.8,169.4L434.3,168.8L434.8,168.1L435.2,167.5L435.2,168.5L435.1,169.3L435.1,170.2L435.4,170.9L435.8,171.7L436.6,172.2L437.6,172.6L438.5,172.8L439.0,173.7L439.6,174.5L440.0,174.9L439.7,175.9L439.3,177.0L438.8,177.5L438.5,178.2L438.2,178.8L437.2,179.2L437.1,180.2L437.1,180.7L437.2,181.3L437.1,181.7L436.3,182.0L435.5,182.2L435.3,182.9L435.1,183.6L434.2,183.7L433.9,184.3L433.7,184.9L433.2,185.4L432.3,185.6L431.4,185.7L430.5,185.8L429.9,186.6L429.3,187.3L429.3,187.9L428.5,188.2L427.8,188.5L427.0,188.8L426.3,189.2L425.6,189.6L424.9,190.3L424.3,190.9L423.6,191.1L423.2,190.9L422.5,191.7L421.5,192.0L420.9,192.1L420.3,192.2L419.9,192.2L419.5,192.8L419.1,193.4L418.4,193.4L417.9,193.5L416.9,193.5L416.7,193.0L416.5,192.4L416.5,191.9L416.5,191.3L416.3,190.3L416.1,189.4L415.7,188.6L415.9,188.5L415.9,187.5L415.9,186.6L415.7,185.6L415.2,185.1L415.2,184.3L414.5,183.7L414.1,182.9L413.7,182.1L413.5,181.3L413.3,180.5L412.8,179.9L412.3,179.2L411.7,179.0L411.2,178.1L410.7,177.1L410.7,176.3L410.6,175.5L410.6,174.7L410.2,173.7L409.9,172.6L409.1,171.9L408.4,171.5L408.2,170.9L408.0,170.4L408.0,170.0L407.6,169.0L407.2,168.3L406.9,167.7L406.6,167.2L406.2,166.4L405.7,165.7L405.4,165.0L405.0,164.3L404.3,164.3L404.6,163.4L404.6,162.4L404.2,161.7L404.1,162.6L404.0,163.6L403.9,164.5L403.3,165.3L402.9,164.3L402.6,163.8L402.2,163.2L402.0,162.4L401.8,161.7L401.6,160.9L401.5,161.1L401.4,160.2L401.2,159.2L401.1,158.3L402.0,158.3L402.9,158.3L403.8,158.3L404.3,157.9L404.5,157.1L404.6,156.3L404.8,155.5L405.0,154.9L405.3,154.2L405.6,153.4L405.9,152.7L406.3,152.1L406.2,151.3L406.2,150.6L406.5,149.8L406.0,148.9L406.6,148.1L405.7,148.3L405.1,148.1L404.5,147.9L404.0,148.5L403.5,149.1L402.4,149.2L401.4,149.3L400.8,148.8L400.2,148.3L399.4,148.2L398.7,148.1L398.4,148.9L397.4,149.3L396.7,148.7L396.0,148.1L395.2,148.1L394.4,148.1L394.0,147.2L393.6,146.2L393.1,145.8L392.6,145.3L392.9,144.5L393.3,143.8L392.9,143.3L392.4,142.8L392.4,141.9L393.0,141.1L394.0,141.1L395.0,141.1L396.1,141.0L396.4,140.3L396.7,139.6L397.6,139.7L398.5,139.8L399.4,139.8L400.2,139.3L401.1,138.7L401.9,138.4L402.8,138.1L403.6,138.1L404.4,138.1L405.2,138.1L406.0,138.6L406.8,139.0L407.6,139.4L408.6,139.8L409.6,140.2L410.4,140.0L411.3,139.8L411.9,139.9L412.5,140.0L413.4,139.5L414.2,139.1L414.2,138.0L414.1,137.0L413.7,136.2L413.3,135.5L412.4,136.1L411.8,135.5L411.3,134.9L410.7,134.4L409.9,133.9L409.2,133.5L408.4,133.0L407.9,132.6L407.3,132.1L408.3,131.7L408.9,131.0L409.4,130.2L408.7,129.5L409.7,129.1L410.7,128.7L410.1,128.6L409.4,128.5L408.4,128.9L407.4,129.3L406.7,129.4L406.0,129.5L405.4,129.7L404.8,130.0L404.9,130.6L404.9,131.2L405.6,131.5L406.3,131.5L407.0,131.5L406.7,132.3L406.0,132.5L405.2,132.7L404.3,133.1L403.3,133.6L402.5,133.2L402.8,132.5L402.1,132.2L401.4,131.9L401.5,131.5L402.2,131.2L402.9,130.8L402.1,130.6L401.4,130.4L400.8,130.2L400.2,130.0L400.2,129.3L399.5,129.4L398.8,129.5L398.6,130.0L398.4,130.6L397.8,131.2L397.2,131.9L397.2,132.5L396.5,132.9L396.1,132.7L396.0,133.4L395.9,134.2L395.8,134.9L395.4,135.3L395.0,135.7L394.8,136.3L394.6,137.0L394.8,137.6L395.0,138.1L395.6,138.8L396.3,139.4L395.7,139.6L395.1,139.8L394.4,140.0L393.8,140.5L393.3,141.0L392.7,141.5L392.1,140.8L392.3,140.4L391.3,140.2L390.6,140.2L389.7,140.4L388.9,140.6L389.4,141.1L389.9,141.7L389.2,141.9L388.3,141.9L388.0,141.4L387.6,141.0L387.3,141.3L387.5,141.9L387.6,142.5L388.0,142.9L388.5,143.4L387.8,143.8L388.2,144.3L388.6,144.7L389.3,145.3L389.3,146.2L388.7,146.0L388.0,145.9L388.5,146.8L387.6,147.0L387.9,147.8L388.2,148.7L387.2,148.7L386.6,148.3L386.0,147.9L385.8,147.2L385.5,146.4L385.3,145.8L385.2,145.1L384.6,144.2L384.3,143.7L383.9,143.2L383.9,142.7L383.6,142.5L383.6,141.9L382.8,141.3L382.6,140.6L382.7,139.9L382.8,139.3L382.9,138.7L382.8,138.3L382.1,137.6L381.5,137.2L380.8,136.9L380.1,136.6L379.7,136.2L379.2,135.9L378.6,135.6L378.0,135.3L377.4,134.6L376.8,134.0L377.1,133.8L376.4,133.0L376.4,132.3L375.6,132.1L375.1,132.9L374.7,132.3L374.7,131.5L373.9,131.2L373.3,131.4L372.7,131.7L372.9,132.7L372.7,133.2L373.2,134.2L373.8,134.6L374.4,135.1L374.8,135.9L375.1,136.6L375.7,137.1L376.2,137.7L376.7,138.2L377.3,138.2L377.8,138.2L378.3,138.7L377.8,139.1L378.6,139.4L379.3,139.8L380.1,140.2L380.7,140.7L381.4,141.1L381.5,141.5L381.2,142.3L380.8,141.8L380.4,141.3L379.8,141.2L379.2,141.1L378.9,141.7L378.5,142.3L379.1,142.7L379.7,143.0L379.5,144.0L378.8,144.2L378.5,144.9L378.1,145.7L377.5,145.9L377.5,145.3L377.7,144.7L377.8,144.2L378.0,143.5L378.1,142.8L377.6,142.4L377.1,141.9L376.5,141.5L376.1,140.8L375.3,140.4L374.6,139.6L373.6,139.4L373.0,139.1L372.4,138.7L371.8,138.0L371.2,137.4L370.7,136.8L370.2,136.2L370.0,135.4L369.8,134.5L369.0,134.4L368.5,134.0L367.9,133.6L367.2,134.0L366.5,134.7L365.8,134.9L365.1,135.5L364.5,136.1L363.6,135.9L362.7,135.7L361.8,135.5L360.8,135.8L359.7,136.1L359.6,136.6L359.6,137.2L359.6,137.8L359.6,138.3L358.9,139.0L358.3,139.6L357.4,139.8L356.4,140.0L356.3,140.6L355.9,141.1L355.4,141.7L355.2,142.5L354.9,143.2L355.2,143.8L355.4,144.4L355.0,144.7L354.6,145.1L354.4,145.8L354.3,146.4L353.3,146.8L352.8,147.5L352.3,148.1L351.2,148.1L350.2,148.1L349.1,148.1L348.6,148.5L348.2,148.9L347.6,149.6ZM268.6,314.9L270.6,314.0L273.4,314.4L272.5,315.5L270.4,315.3L268.6,314.9ZM606.5,250.1L608.4,250.5L608.0,251.6L606.7,251.4ZM525.1,233.5L526.8,234.1L529.4,232.6L529.3,233.5L526.0,233.9ZM426.2,65.0L427.1,64.7L428.0,64.5L428.9,64.3L429.8,64.4L430.8,64.7L431.7,64.2L432.6,64.2L433.5,64.0L434.4,63.7L435.4,63.7L436.3,63.8L437.3,63.6L438.2,63.7L439.1,63.6L440.1,63.7L441.0,63.3L441.9,63.4L442.7,63.2L443.6,63.4L444.3,64.0L445.2,63.6L446.0,64.0L445.2,64.1L444.4,64.3L443.7,65.0L442.9,64.8L442.0,64.6L441.1,65.3L440.2,64.7L439.3,64.7L438.4,65.4L437.5,65.2L436.5,65.1L435.5,65.1L434.5,65.7L433.5,65.3L432.5,65.6L431.5,65.6L430.7,64.7L429.7,64.8L428.8,64.7L427.9,64.5L427.1,65.3L426.2,65.0ZM419.1,65.4L424.0,65.7L422.6,66.3ZM369.2,112.9L370.6,112.7L370.2,113.6ZM347.2,123.0L347.6,122.1L348.1,121.4L348.7,121.1L349.3,120.8L350.3,120.7L351.0,120.2L350.3,120.3L349.6,120.0L348.7,120.0L347.9,119.7L348.5,119.0L349.3,118.7L348.8,117.8L348.8,116.8L349.6,116.5L350.5,116.6L351.3,116.8L351.1,116.2L350.9,115.5L351.0,114.6L350.5,113.8L349.7,113.8L349.0,114.1L348.2,114.2L348.5,113.6L347.8,113.3L347.1,112.9L347.4,112.1L347.5,111.2L347.2,110.5L347.1,109.9L347.0,109.0L347.4,108.2L348.0,107.6L348.2,106.8L349.1,106.9L350.0,106.6L350.9,106.8L351.0,107.7L350.6,108.5L351.7,108.4L352.7,108.7L352.3,109.5L351.7,110.2L351.6,111.2L352.2,111.7L352.8,111.9L353.0,112.5L353.2,113.3L353.5,114.0L354.1,114.8L355.0,115.1L355.4,115.6L355.3,116.3L355.7,117.2L356.5,117.3L357.3,117.6L357.8,118.3L357.2,119.0L356.6,119.7L356.7,120.4L357.3,120.8L356.3,121.2L355.2,121.4L354.2,121.5L353.3,121.9L352.5,121.9L351.5,122.2L350.5,121.9L349.9,122.0L349.3,122.3L348.6,122.3L347.9,122.8L347.2,123.0ZM380.9,109.5L382.1,108.2L381.8,109.3ZM251.9,69.9L252.9,69.8L253.6,69.0L254.6,68.7L255.5,68.5L256.2,67.6L257.2,67.4L258.1,67.0L258.9,66.5L260.0,66.6L260.6,65.5L261.5,65.3L262.4,65.2L263.5,65.4L264.4,65.1L265.0,64.2L266.0,64.2L267.0,64.4L267.9,63.9L268.9,64.1L269.9,63.9L270.7,62.9L271.8,63.5L272.6,62.9L273.5,62.4L274.5,62.5L275.5,62.4L276.5,62.0L277.5,62.5L278.5,62.3L279.5,61.8L280.5,61.8L281.5,62.0L282.5,62.2L283.4,61.7L284.4,61.8L285.4,61.3L286.3,61.4L287.2,61.1L288.2,61.2L289.2,61.6L290.1,60.9L291.0,60.9L292.0,61.2L293.0,60.8L293.9,60.5L294.8,60.3L295.8,60.3L296.7,60.6L297.7,60.6L298.6,60.4L299.5,59.8L300.5,59.9L301.4,59.7L302.4,60.0L303.3,59.7L304.3,59.7L305.2,60.0L306.2,59.8L307.1,59.9L308.1,59.5L309.0,59.9L310.0,59.5L310.9,59.6L311.8,60.3L312.8,59.7L313.7,59.6L314.7,60.3L315.6,60.1L316.6,59.9L317.5,60.2L318.3,60.6L319.2,61.0L320.2,60.4L321.0,61.0L322.0,60.6L322.8,61.4L323.8,61.2L324.7,61.1L325.5,61.6L324.6,61.8L323.6,61.7L322.8,62.3L321.8,62.2L320.8,62.0L319.9,62.4L318.9,62.0L318.0,62.1L317.0,62.3L316.1,62.1L315.1,62.6L314.2,62.3L313.3,62.4L312.3,62.5L311.4,62.2L312.4,61.8L313.4,62.0L314.3,62.9L315.4,62.4L316.3,62.5L317.3,62.9L318.3,63.0L319.3,63.3L320.3,63.4L321.3,63.1L322.3,62.8L323.3,63.0L324.3,63.2L325.3,63.2L326.2,63.4L327.3,63.2L328.2,63.9L329.2,63.4L330.2,64.0L331.2,63.7L332.1,64.0L333.0,63.8L333.9,63.4L334.8,63.2L335.8,64.0L336.7,63.9L337.6,63.5L336.8,63.8L336.0,64.4L335.0,64.1L334.3,64.7L333.5,64.9L332.5,64.7L331.8,65.4L330.9,65.2L330.1,65.5L329.4,66.4L328.5,66.1L327.7,66.5L328.3,67.0L329.0,67.4L329.8,67.6L329.2,68.5L328.0,68.2L327.4,69.0L328.2,69.6L328.8,70.3L328.9,71.4L329.5,72.2L328.6,72.0L327.6,72.1L326.7,72.8L325.8,72.7L324.8,72.5L325.4,73.3L326.0,74.1L326.6,74.9L327.4,75.5L327.7,76.3L327.2,77.1L326.4,77.0L325.7,77.5L324.9,77.5L324.1,77.4L324.9,77.6L325.4,78.3L326.0,78.8L325.0,79.1L324.0,78.8L323.0,79.2L322.0,79.1L322.9,79.6L323.3,80.4L323.8,81.2L323.0,81.2L322.2,81.1L321.5,80.3L320.6,80.6L320.4,81.3L320.0,82.0L320.2,82.7L321.1,82.9L322.1,83.2L323.1,82.8L324.1,82.9L323.8,83.7L323.4,84.4L322.5,84.6L321.6,84.6L320.8,84.0L319.9,84.4L319.5,84.9L319.2,85.4L318.6,86.0L317.9,86.7L317.7,87.6L316.9,87.8L316.1,88.3L315.2,88.0L314.3,88.1L313.5,88.6L312.6,88.3L311.7,88.9L310.9,89.3L310.0,89.1L309.3,89.6L308.6,90.1L308.5,91.1L307.5,91.2L307.1,91.9L306.3,92.0L305.9,93.0L305.0,92.8L304.3,93.3L303.4,93.7L302.4,93.5L301.5,93.6L300.7,94.1L299.7,93.8L298.9,94.0L298.6,95.0L297.9,95.7L297.9,96.4L297.8,97.0L297.1,97.5L296.5,98.2L295.9,98.6L295.8,99.3L295.4,99.9L295.6,100.6L295.4,101.3L295.2,101.9L295.0,102.6L294.8,103.3L294.4,103.8L293.9,104.4L293.1,104.6L292.6,104.0L291.7,104.3L291.1,104.0L290.2,103.8L289.8,103.2L289.4,102.5L288.6,102.2L287.8,102.2L287.0,102.3L286.5,101.9L285.7,101.7L285.4,101.0L284.9,100.4L284.9,99.5L284.2,99.1L283.3,98.8L282.6,98.3L282.2,97.4L281.9,96.6L281.2,95.9L281.3,95.0L281.2,94.1L280.6,93.4L279.9,92.9L279.3,92.1L279.3,91.2L279.9,90.5L280.1,89.8L279.9,88.9L280.5,88.4L280.6,87.6L281.0,87.0L280.9,86.3L280.1,86.0L279.8,85.2L278.8,85.0L277.9,84.4L277.9,83.6L277.9,82.7L277.2,82.2L277.2,81.2L276.5,80.6L276.0,79.9L275.8,79.1L275.2,78.4L274.8,77.8L274.8,76.9L274.1,76.5L273.3,76.1L272.9,75.2L272.2,74.7L271.3,74.4L270.4,74.1L269.4,74.5L268.6,73.6L267.6,74.1L266.7,73.7L265.8,74.1L264.7,73.4L263.8,74.1L262.8,74.2L261.8,73.9L260.8,73.4L259.8,73.2L258.8,73.6L257.8,73.5L256.8,73.3L256.0,72.7L255.1,72.3L254.1,72.2L255.0,71.9L255.9,71.5L256.9,71.5L257.8,71.5L258.7,71.2L259.7,71.7L260.6,71.4L259.8,71.4L258.9,71.2L258.0,71.4L257.2,71.2L256.3,70.8L255.5,70.6L254.6,70.8L253.8,70.2L252.8,70.2L251.9,69.9ZM560.2,191.7L560.6,191.7L560.3,192.4ZM509.2,181.1L510.0,179.8L511.0,179.0L512.0,179.4L512.6,180.4L511.9,182.2L510.6,183.0L509.9,182.6L509.2,181.1ZM536.5,213.2L537.7,215.4L536.8,216.9L537.5,218.8L536.3,217.9L536.0,215.4ZM134.4,179.2L135.7,180.2L134.4,181.5L134.2,180.2ZM133.3,177.9L134.2,178.1L133.5,178.5ZM131.0,176.6L131.8,177.1L131.3,177.1ZM249.9,182.6L251.3,180.2L252.4,179.8L254.6,179.8L256.1,180.2L257.2,181.1L258.4,182.2L257.8,183.0L256.1,183.0L254.4,184.1L253.6,183.2L251.6,183.0L249.9,182.6ZM553.7,139.1L554.0,138.4L553.8,137.8L553.5,137.0L553.8,136.2L554.4,135.7L555.0,135.6L555.7,135.5L555.8,134.6L555.9,133.8L556.4,133.1L556.2,132.3L556.4,131.5L557.1,132.3L557.8,133.0L558.5,133.6L559.2,134.0L560.2,133.7L561.2,133.6L561.1,134.7L561.5,135.7L560.4,135.8L559.5,136.4L559.0,137.0L558.9,137.8L558.2,138.3L557.6,137.6L556.7,137.4L555.9,137.0L555.5,137.6L555.2,138.3L554.4,138.7L553.7,139.1ZM540.8,153.2L541.5,152.5L542.0,151.7L542.9,151.3L543.6,150.9L543.9,150.2L544.9,149.9L546.0,150.0L546.8,150.3L547.6,150.4L548.2,149.4L548.8,148.8L549.0,147.9L549.4,147.3L549.4,146.6L549.1,147.2L549.9,147.9L550.4,147.2L551.0,146.6L551.7,146.0L552.3,145.8L552.8,145.3L553.4,144.6L553.5,143.8L553.7,143.0L553.7,142.3L553.7,141.5L553.5,140.8L553.8,140.2L554.1,139.6L554.9,139.4L555.7,139.3L555.6,140.0L555.8,140.8L556.2,141.6L556.5,142.5L556.2,143.2L555.9,144.0L555.5,144.6L555.1,145.3L554.9,146.0L555.0,146.8L555.0,147.8L554.5,148.7L554.8,149.3L554.8,150.0L554.3,150.5L554.0,151.1L553.4,151.3L553.4,150.6L552.5,150.9L552.2,151.5L552.0,152.1L551.4,152.1L550.8,151.9L550.3,152.1L549.3,151.9L549.1,152.6L548.6,153.6L547.7,154.2L547.1,153.9L546.7,153.4L546.9,152.7L547.0,152.1L546.2,151.7L545.1,151.9L544.2,152.5L543.3,153.1L542.2,153.4L541.5,153.1L540.8,153.2ZM324.1,96.9L323.8,96.3L323.1,96.5L322.6,95.9L321.9,95.5L321.3,95.0L322.1,94.9L323.0,95.0L323.8,94.6L323.2,94.0L322.3,94.3L321.6,94.3L320.9,93.8L321.4,93.1L322.1,92.5L323.0,91.9L324.0,92.1L324.7,92.5L325.5,93.1L326.4,92.9L327.1,92.5L327.9,92.9L328.7,92.5L329.4,92.1L330.4,92.6L331.1,92.1L331.9,91.9L332.7,92.0L333.6,91.8L334.3,92.3L334.8,93.0L334.8,93.8L335.2,94.5L336.0,94.6L335.5,95.5L334.6,95.9L333.8,96.1L333.0,96.4L332.2,96.8L331.4,97.0L330.4,97.1L329.7,97.9L328.8,97.8L328.0,97.5L327.1,97.8L326.4,97.2L325.6,97.4L324.9,96.9L324.1,96.9ZM346.2,119.1L345.4,119.5L344.5,119.4L343.7,119.7L342.8,120.2L341.7,120.2L341.2,119.8L340.7,119.5L341.4,119.0L341.5,118.1L342.0,117.6L341.9,116.9L341.3,116.6L341.3,115.9L341.1,115.1L342.2,115.3L343.3,114.9L343.0,114.3L343.4,113.6L344.3,113.5L345.1,113.1L346.0,113.3L346.9,113.4L347.2,114.0L347.5,114.6L347.1,115.1L346.5,115.5L346.4,116.3L346.8,117.0L346.6,118.0L346.7,118.9ZM244.2,182.8L246.0,182.4L247.3,183.2L246.3,183.7L244.3,183.2ZM504.4,230.1L505.6,228.4L507.3,228.4L509.0,229.4L511.9,230.3L512.6,229.4L514.9,230.3L515.3,231.6L517.5,232.0L517.7,233.7L516.1,232.9L514.0,232.9L512.0,232.6L509.0,231.8L506.2,231.2L504.7,230.3L504.4,230.1ZM218.6,87.4L217.6,87.3L216.7,86.9L215.7,86.7L216.1,86.0L216.9,85.5L217.5,85.9L218.3,85.8L219.0,85.9L218.9,86.7ZM139.5,108.3L137.8,109.7L136.2,109.3L137.6,108.0L139.5,108.3ZM423.6,86.9L425.0,86.5L425.6,87.4L424.2,87.6ZM539.1,154.3L540.1,153.6L540.9,153.4L541.9,154.5L542.2,156.2L541.4,158.1L540.5,158.9L539.8,158.3L539.9,156.8L539.2,155.8L539.1,154.3ZM268.0,186.6L268.6,186.6L268.3,187.3ZM268.6,189.4L269.0,189.8L268.7,190.2ZM531.6,195.6L532.4,196.9L532.1,198.3L531.4,196.8ZM519.4,234.1L520.7,233.1L520.0,234.1ZM526.2,182.4L527.2,182.4L528.6,182.4L528.5,184.7L528.7,186.2L527.5,187.3L527.5,189.4L528.3,190.7L529.4,190.9L530.9,191.3L531.3,193.2L530.6,192.8L529.2,191.7L527.7,191.1L526.3,191.1L526.2,189.8L525.5,189.2L525.2,186.4L525.9,186.4L526.0,184.5L526.2,182.4ZM425.2,239.9L426.3,242.9L426.9,246.1L426.4,247.5L426.0,246.3L425.7,247.6L425.4,249.5L424.9,252.9L423.9,255.9L423.2,259.5L422.6,262.2L422.0,264.2L419.6,265.6L417.6,264.4L416.7,259.0L417.5,257.3L418.2,255.2L418.4,253.9L417.6,250.1L418.2,247.8L419.8,247.3L420.9,247.1L422.2,244.8L423.3,243.9L424.4,242.0L425.2,239.9ZM436.8,255.0L437.2,255.8L436.6,255.8ZM215.0,65.6L212.9,66.1L214.3,64.8ZM206.8,75.5L205.9,75.9L205.0,75.8L204.1,75.8L203.2,76.0L202.3,76.1L201.3,76.2L200.4,76.4L199.4,76.6L198.5,77.0L197.6,77.2L196.6,77.1L195.6,77.2L194.7,76.7L193.7,77.4L192.8,77.1L191.9,77.0L190.9,76.9L190.2,76.3L189.5,75.9L188.8,75.4L189.6,75.1L190.3,74.6L190.8,73.9L191.4,73.3L192.3,73.0L193.3,73.6L194.2,73.6L195.2,73.3L196.1,73.6L197.1,73.6L198.0,73.3L199.0,73.5L199.9,72.7L200.8,72.5L201.8,72.5L202.5,73.2L203.4,73.1L204.2,73.5L204.8,74.0L205.7,74.2L206.0,75.2L206.8,75.5ZM528.2,204.1L529.6,202.6L530.4,202.6L531.3,201.8L533.0,200.3L533.1,198.8L534.3,200.0L534.6,202.4L534.3,205.4L533.4,203.5L532.9,206.0L531.3,205.6L530.9,203.9L529.3,203.4L528.2,204.1ZM525.8,191.9L527.5,192.6L527.0,194.3L526.0,193.4ZM117.2,93.6L118.2,93.2L119.3,93.3L120.1,92.4L121.2,92.1L122.2,91.9L123.1,91.7L123.9,91.4L124.8,91.2L125.7,91.2L124.9,90.5L123.9,90.3L122.9,89.9L121.8,89.9L121.0,89.0L119.9,89.1L118.9,88.6L119.9,88.4L120.6,87.5L121.7,87.5L122.6,87.1L123.5,86.7L124.3,86.3L125.5,86.1L126.3,85.5L127.2,84.8L128.1,84.3L129.1,84.1L130.0,83.4L131.2,83.5L132.1,83.0L133.1,82.7L134.1,82.6L135.0,83.1L136.0,83.4L137.1,83.0L137.9,83.7L138.9,83.8L139.9,83.8L141.0,83.7L141.9,84.4L143.0,84.1L144.0,84.2L144.9,84.8L145.9,85.1L147.0,85.2L148.1,85.0L149.1,85.4L150.2,85.2L151.3,85.2L152.2,85.7L153.4,85.6L154.5,85.8L155.5,86.1L156.4,86.6L157.4,86.5L158.3,86.7L159.2,87.2L160.2,87.2L161.2,87.2L162.2,87.3L163.0,86.7L164.0,86.7L165.1,86.9L166.1,86.4L167.2,86.0L168.3,86.1L169.2,86.0L170.0,85.8L170.9,85.3L171.8,85.4L172.4,84.7L173.3,84.7L173.9,84.2L174.7,84.7L175.8,84.8L176.5,85.5L177.4,85.8L178.2,86.3L179.1,86.5L180.1,86.4L181.0,85.9L182.0,86.3L182.9,85.9L183.8,86.3L184.9,86.1L185.8,86.4L186.6,87.2L187.6,87.3L188.5,87.3L189.5,87.4L190.4,87.5L191.1,88.1L192.2,87.9L192.9,88.5L193.8,88.7L194.7,88.5L195.7,88.5L196.6,89.3L197.6,88.9L198.5,88.7L199.4,89.1L200.4,88.9L201.5,89.1L202.4,88.7L203.3,88.0L204.4,88.2L205.3,88.4L206.1,89.0L207.1,88.8L207.9,89.1L208.8,89.2L209.7,89.5L210.5,89.9L211.5,89.7L212.5,89.9L213.6,89.4L214.7,89.6L215.7,89.5L216.6,89.3L217.5,88.9L218.3,88.6L219.3,88.7L219.3,87.9L219.5,87.0L220.0,86.3L220.2,85.3L220.9,84.6L220.7,83.5L221.3,82.7L221.7,81.8L222.1,82.8L223.0,83.5L223.9,84.0L224.7,84.8L225.7,85.0L226.2,85.8L227.1,86.3L227.9,86.9L228.8,87.4L229.6,88.0L230.6,88.4L231.3,88.7L232.0,89.1L232.7,89.5L233.2,88.8L233.2,87.8L233.7,87.1L234.1,86.3L235.0,86.4L235.9,86.1L236.8,86.0L237.7,85.9L238.6,86.1L238.9,87.1L239.8,87.2L240.0,88.0L239.7,88.8L240.0,89.5L239.3,90.2L238.5,90.8L237.9,91.5L237.4,92.3L236.3,92.3L235.3,91.8L234.1,92.1L233.4,92.6L233.0,93.4L232.5,94.1L232.0,94.8L231.5,95.5L230.8,96.1L229.9,96.3L228.8,96.5L228.1,97.3L227.1,97.6L226.4,98.2L225.7,98.8L225.0,99.4L224.0,99.6L223.5,100.4L222.9,101.1L222.7,102.0L221.6,102.3L221.4,103.3L221.6,104.2L221.0,105.1L221.1,106.1L222.0,106.5L222.0,107.7L222.8,108.2L223.5,108.7L224.5,109.0L225.4,109.2L226.4,109.5L227.1,110.1L228.1,109.9L228.9,110.5L229.8,110.4L230.6,111.0L231.6,111.3L232.5,111.7L233.4,112.3L234.1,113.1L235.1,112.7L236.0,113.1L236.9,113.0L237.8,113.3L238.7,113.4L238.7,114.4L238.8,115.4L238.8,116.4L238.8,117.4L239.3,118.2L239.8,119.0L240.3,119.8L240.8,120.6L241.6,120.5L242.3,120.3L243.1,120.2L243.3,119.4L243.5,118.6L243.8,117.8L243.5,116.9L243.2,116.1L242.9,115.2L242.6,114.4L243.5,113.8L244.4,113.2L245.3,112.5L246.2,111.9L246.5,110.9L246.9,110.0L246.8,108.9L246.3,108.0L245.9,107.0L245.5,106.1L245.0,105.3L245.5,104.4L245.3,103.5L245.1,102.7L244.9,101.7L245.0,100.8L245.5,99.9L246.5,99.7L247.5,99.7L248.5,100.2L249.5,99.6L250.4,99.9L251.1,100.7L252.3,100.9L253.1,101.5L254.0,102.1L254.2,103.1L254.8,103.8L255.4,104.5L256.1,105.1L256.9,105.6L257.5,106.3L258.3,106.5L258.9,107.1L259.7,107.4L260.4,107.2L261.1,106.9L261.8,106.5L262.4,105.8L262.6,105.0L263.6,104.7L263.9,103.8L264.4,104.7L264.5,105.7L265.3,106.5L266.2,106.9L266.5,107.8L267.4,108.2L267.7,109.1L268.2,109.8L267.8,110.6L268.2,111.4L269.0,111.5L269.5,112.4L270.4,112.4L271.0,113.1L271.8,113.5L272.5,114.0L273.3,114.5L274.1,114.9L274.7,115.8L275.2,116.7L275.8,117.6L276.4,118.5L275.8,119.1L275.1,119.7L274.5,120.2L273.6,120.7L272.8,121.2L271.9,121.6L271.0,122.1L270.1,122.2L269.2,122.4L268.3,122.5L267.4,122.7L266.6,122.7L265.7,122.7L264.8,122.7L263.9,122.7L263.0,122.8L262.0,122.9L261.1,123.1L260.1,123.6L259.2,124.1L258.2,124.6L257.7,125.2L257.1,125.9L256.5,126.6L256.0,127.3L255.4,128.0L256.0,127.4L256.5,126.8L257.1,126.3L258.0,125.7L258.8,125.1L259.7,124.6L260.6,124.6L261.5,124.6L262.5,124.6L263.3,124.9L264.2,125.3L263.7,126.1L263.2,126.8L263.4,127.8L263.6,128.7L264.2,129.2L264.8,129.7L265.3,130.2L266.3,130.5L267.2,130.8L268.2,131.2L269.1,131.5L268.6,131.9L268.0,132.3L267.1,132.6L266.2,132.9L265.3,133.2L264.6,133.7L263.9,134.3L263.2,134.8L262.5,135.3L262.1,134.7L261.6,134.2L262.4,133.4L263.1,132.7L263.9,131.9L262.8,132.0L261.8,132.1L261.0,132.6L260.2,133.0L259.3,133.5L258.4,133.9L257.5,134.4L256.7,134.7L255.8,135.1L255.5,136.0L255.1,136.8L255.6,137.8L256.1,138.7L255.0,139.0L254.0,139.3L252.9,139.6L251.9,139.9L250.9,140.2L250.4,141.0L250.3,141.8L250.2,142.7L249.7,143.3L249.2,144.0L248.9,144.9L248.5,145.7L248.1,146.4L247.7,147.2L247.9,148.2L248.0,149.3L248.2,150.4L247.5,151.1L246.9,151.9L246.2,152.4L245.5,152.9L244.8,153.4L243.9,154.1L243.1,154.7L242.3,155.3L241.6,156.0L240.8,156.6L240.5,157.5L240.2,158.4L240.0,159.2L240.1,160.1L240.1,160.9L240.2,161.7L240.5,162.6L240.8,163.6L241.1,164.5L241.4,165.5L241.5,166.4L241.7,167.3L241.8,168.3L241.5,169.0L241.2,169.8L240.2,169.6L239.8,168.8L239.4,167.9L239.0,167.0L238.5,166.0L238.1,165.1L238.1,164.3L238.0,163.5L238.0,162.6L237.3,161.8L236.7,160.9L235.6,161.1L234.6,161.3L234.0,160.9L233.3,160.4L232.7,160.0L231.9,160.0L231.1,160.0L230.3,160.0L229.4,160.2L228.5,160.4L228.6,161.4L228.8,162.4L227.7,162.4L226.6,162.4L225.8,162.1L225.0,161.8L224.2,161.5L223.2,161.4L222.1,161.3L221.4,161.8L220.7,162.3L219.9,162.8L219.1,163.4L218.3,164.0L217.8,164.9L217.3,165.8L217.3,166.8L217.3,167.7L217.3,168.7L217.1,169.7L217.0,170.7L216.9,171.7L216.8,172.6L216.8,173.5L216.8,174.4L216.7,175.3L217.0,176.2L217.2,177.1L217.4,178.1L217.9,179.0L218.3,180.0L218.7,180.9L219.6,181.6L220.4,182.2L221.0,182.6L221.5,183.0L222.4,182.7L223.3,182.5L224.2,182.2L225.1,182.1L226.1,181.9L226.4,181.2L226.8,180.5L227.2,179.8L227.3,178.8L227.3,177.7L228.1,177.4L228.9,177.1L229.6,176.8L230.4,176.8L231.1,176.8L231.9,176.8L231.7,177.6L231.5,178.4L231.3,179.2L231.2,180.0L231.0,180.7L230.7,181.8L230.3,182.8L230.3,183.8L230.3,184.9L230.1,185.7L229.8,186.5L229.6,187.3L230.4,187.3L231.2,187.3L231.9,187.3L232.7,187.2L233.4,187.1L234.2,187.3L235.0,187.4L235.8,187.5L236.6,188.3L237.4,189.0L237.3,190.0L237.1,191.0L237.0,192.0L236.9,193.0L236.9,193.9L236.9,194.9L236.8,195.8L236.6,196.8L237.1,197.7L237.7,198.6L238.3,199.3L238.8,199.9L239.4,200.5L240.3,200.3L241.2,200.1L241.9,199.7L242.6,199.2L243.4,199.5L244.1,199.7L244.8,200.0L245.2,200.5L245.7,201.0L245.4,201.9L245.2,202.8L244.9,203.7L244.6,202.7L244.2,201.7L243.8,201.0L243.4,200.3L242.7,200.9L242.1,201.5L241.7,202.5L241.4,203.5L240.8,203.2L240.2,202.8L239.7,202.3L239.1,201.8L238.4,201.7L237.6,201.6L236.8,201.5L236.5,200.8L236.2,200.1L235.8,199.4L235.3,199.1L234.7,198.8L234.1,198.4L233.6,198.1L233.7,197.2L233.9,196.4L233.3,195.5L232.8,194.6L232.3,193.7L231.7,193.2L231.2,192.6L230.5,192.5L229.9,192.4L229.1,192.1L228.4,191.8L227.6,191.5L226.8,191.3L225.9,191.1L225.3,190.5L224.7,190.0L224.1,189.3L223.5,188.6L223.0,188.0L222.4,187.3L221.7,187.0L221.1,186.8L220.3,187.1L219.4,187.4L218.6,187.7L217.6,187.3L216.7,187.0L215.7,186.6L215.0,186.1L214.3,185.7L213.6,185.3L212.8,184.7L212.0,184.1L211.2,183.6L210.3,183.3L209.5,183.1L208.6,182.8L207.9,182.1L207.2,181.4L206.5,180.7L206.2,180.0L205.9,179.3L205.5,178.7L205.7,177.6L205.9,176.6L205.7,175.6L205.4,174.7L204.9,173.9L204.3,173.2L203.8,172.4L203.3,171.6L202.7,170.8L202.1,170.0L201.5,169.5L200.9,169.1L200.3,168.7L200.4,167.9L200.4,167.2L199.8,166.3L199.2,165.5L198.6,164.7L198.0,164.2L197.4,163.7L196.9,163.2L196.5,162.3L196.0,161.3L195.6,160.4L195.3,159.4L195.0,158.5L194.2,158.1L193.4,157.7L192.6,157.4L192.7,158.4L192.7,159.4L192.8,160.4L193.3,161.1L193.9,161.9L194.5,162.6L194.8,163.6L195.2,164.5L195.6,165.5L195.9,166.3L196.3,167.1L196.6,167.9L197.0,168.7L197.3,169.4L197.7,170.2L198.0,170.9L198.6,171.4L199.1,171.9L199.7,172.7L200.3,173.6L199.4,174.1L198.9,173.4L198.4,172.6L197.8,171.9L197.3,171.1L196.8,170.2L196.3,169.2L195.6,168.4L194.9,167.6L194.2,166.8L193.5,166.0L193.4,165.1L193.3,164.1L192.7,163.3L192.1,162.4L191.5,161.5L191.1,160.6L190.7,159.6L190.3,158.7L189.9,157.7L189.7,156.9L189.4,156.0L188.8,155.2L188.1,154.4L187.5,153.6L186.7,153.0L186.0,152.5L185.2,152.3L184.4,152.1L184.1,151.2L183.8,150.4L183.4,149.7L183.0,149.0L182.6,148.3L182.1,147.5L181.7,146.6L181.4,146.1L181.0,145.7L180.5,144.8L180.0,144.0L179.9,143.1L179.9,142.3L179.5,141.7L179.0,141.1L179.2,140.1L179.5,139.1L179.3,138.3L179.1,137.4L178.9,136.6L179.1,135.9L179.3,135.1L179.5,134.4L179.5,133.3L179.5,132.3L179.6,131.2L179.6,130.2L179.5,129.5L179.5,128.7L179.2,127.8L178.9,126.9L178.6,126.1L179.4,126.3L180.1,126.4L180.9,126.6L181.1,125.9L181.3,125.1L181.0,124.6L180.7,124.0L179.9,123.7L179.2,123.4L178.4,122.9L177.6,122.3L176.8,122.0L176.0,121.8L175.2,121.5L174.9,120.9L174.5,120.2L174.2,119.5L173.8,118.8L173.4,118.1L172.7,117.5L172.0,116.9L171.4,116.3L170.9,115.3L170.4,114.4L170.1,113.5L169.8,112.7L169.5,111.9L169.0,111.2L168.3,110.8L167.4,110.1L166.8,109.2L166.1,108.3L165.5,107.7L164.6,107.5L163.9,107.0L163.3,106.3L162.3,106.5L161.5,107.0L160.7,106.7L160.0,106.3L159.3,105.5L158.1,105.6L157.3,104.8L156.6,104.5L155.8,104.3L155.1,104.0L154.2,104.1L153.2,104.4L152.3,104.1L151.4,104.2L150.3,103.9L149.3,103.5L148.4,102.9L147.6,103.3L146.7,103.4L145.9,103.9L145.0,103.8L144.1,104.1L143.3,104.6L142.4,104.9L141.6,105.5L140.6,105.5L140.1,104.8L140.3,103.9L140.1,103.1L141.0,102.9L141.9,102.6L142.6,101.9L142.0,102.6L141.1,102.6L140.2,102.8L139.5,103.3L139.4,104.2L138.4,104.6L138.2,105.5L137.6,106.1L137.3,106.9L136.9,107.6L136.0,107.9L135.2,108.3L134.4,108.9L133.4,109.2L132.8,110.1L132.0,110.6L131.0,110.9L130.3,111.8L129.3,112.1L128.4,112.0L127.6,112.3L126.9,112.9L126.1,113.3L125.1,113.0L124.3,113.6L123.5,113.9L122.6,114.3L121.8,114.6L122.5,114.1L123.3,113.6L124.0,113.1L124.8,112.5L125.8,112.4L126.5,111.7L126.9,110.7L127.8,110.2L128.7,109.6L129.3,108.7L130.1,108.4L130.8,108.0L131.5,107.4L132.1,106.8L131.2,106.9L130.2,106.7L129.3,106.5L128.2,106.7L127.1,106.5L126.0,106.7L126.0,105.6L125.7,104.6L124.8,104.1L123.8,104.1L122.8,103.8L121.8,103.3L121.1,102.5L121.4,101.5L121.2,100.4L121.4,99.3L122.2,98.5L123.1,98.0L124.2,98.0L125.0,97.4L125.9,97.1L126.4,96.3L127.2,95.9L126.9,95.2L126.0,95.3L125.1,95.1L124.3,95.5L123.4,95.4L122.6,95.9L121.6,95.7L120.7,95.5L119.8,95.5L119.4,95.1L119.1,94.6L118.0,94.4L117.2,93.6ZM528.7,196.9L530.3,196.8L529.9,200.0L528.7,199.0ZM565.4,227.9L568.1,227.7L570.0,225.2L571.1,225.4L570.0,227.9L568.1,229.2L565.6,228.4ZM587.7,255.2L589.5,256.5L592.1,259.1L591.5,259.5L588.4,256.7L587.7,255.2ZM271.1,127.6L271.5,126.9L272.1,126.5L272.5,125.9L271.8,125.1L272.5,124.3L273.2,123.6L273.5,122.5L274.1,121.7L274.8,121.2L275.5,120.5L276.2,120.0L276.4,120.8L276.7,121.5L276.1,122.1L275.6,122.6L275.4,123.4L276.2,124.0L277.2,124.2L278.3,124.5L279.3,124.4L279.7,125.4L279.5,126.4L280.2,127.0L280.6,127.8L279.9,128.4L279.6,129.3L279.1,128.8L278.5,128.3L277.8,128.7L277.0,128.6L276.2,128.9L276.8,128.2L276.8,127.4L276.0,127.6L275.1,127.6L274.1,127.7L273.1,127.8L272.1,127.3L271.1,127.6ZM540.9,219.8L541.9,218.8L542.9,218.1L544.8,218.6L545.3,219.0L545.5,220.7L545.7,222.2L546.6,223.5L547.3,223.7L548.4,221.6L550.0,220.5L551.3,220.5L552.5,221.3L553.7,221.8L555.1,222.2L557.5,223.5L559.3,224.5L560.2,224.8L561.2,225.6L561.9,227.3L564.4,228.8L563.9,231.2L565.2,232.4L566.0,234.5L566.9,234.5L566.9,235.2L567.9,236.3L569.0,236.7L567.9,237.3L566.3,236.7L564.9,236.3L563.7,235.2L563.0,234.1L562.2,232.6L560.3,231.6L559.2,232.2L558.4,232.8L558.5,234.3L557.4,234.8L555.1,234.5L553.5,232.6L552.1,233.1L551.0,233.1L550.3,233.1L550.8,231.6L551.8,231.1L551.4,229.0L550.7,227.5L548.0,225.8L546.9,225.8L544.8,223.9L544.3,224.8L543.5,225.0L542.3,222.6L543.9,222.0L542.6,221.4L542.1,220.3L540.9,219.8ZM568.7,222.4L571.0,223.5L572.2,225.8L571.5,225.8L570.1,223.0ZM428.4,82.5L429.2,82.9L429.8,83.6L430.7,83.7L431.7,83.5L432.6,83.9L433.5,84.2L434.3,83.8L435.2,84.3L436.1,83.8L436.9,84.0L436.3,83.9L435.9,83.5L435.4,82.8L434.3,83.1L433.8,82.3L433.1,81.7L432.7,80.8L432.4,79.9L433.3,79.7L434.0,79.0L434.8,78.6L435.5,78.3L436.3,78.1L436.7,77.2L437.5,77.1L438.2,76.5L438.8,75.8L439.8,75.5L440.6,75.5L441.0,74.6L442.0,74.9L442.6,74.4L443.3,74.1L444.2,74.0L444.9,73.5L445.9,73.9L446.6,73.3L447.4,72.9L448.2,72.7L449.1,72.5L450.1,72.9L451.0,72.5L451.9,72.3L452.5,72.5L452.9,72.9L452.1,73.5L451.0,73.2L450.2,73.9L449.3,73.9L448.4,74.2L447.5,74.5L446.6,74.8L445.5,74.8L444.9,75.9L444.0,76.0L442.9,76.0L442.2,76.7L441.3,76.9L440.5,77.2L439.7,77.5L438.9,78.0L438.4,78.6L437.9,79.1L437.5,79.7L436.9,80.3L436.1,80.7L436.1,81.8L435.6,82.5L434.9,83.1L435.7,83.3L436.4,83.6L436.9,84.2L436.0,84.2L435.0,84.3L434.1,84.4L433.1,84.7L432.2,84.5L431.3,84.2L430.7,83.5L429.7,83.3L428.9,83.1L428.4,82.5ZM550.1,75.7L550.9,75.4L551.6,75.0L551.7,73.9L552.5,73.7L553.4,73.2L554.3,74.1L555.2,73.5L556.1,73.4L556.9,73.7L557.6,73.9L558.3,74.1L559.1,74.2L559.8,74.7L560.7,74.8L561.5,75.0L562.3,75.2L563.2,75.2L564.0,74.7L564.9,74.7L565.8,74.9L566.6,74.4L567.2,75.0L568.0,75.4L568.8,75.7L567.9,76.0L567.1,75.1L566.1,75.8L565.3,75.0L564.4,75.5L563.5,75.1L562.6,75.0L561.7,75.1L560.8,75.5L560.0,76.2L559.1,76.4L558.1,76.5L557.2,76.7L556.7,77.2L556.2,77.7L555.4,77.8L554.4,77.7L553.9,76.9L553.0,76.7L552.0,76.3L551.1,76.1L550.1,75.7ZM550.8,77.2L553.4,77.6L551.6,78.0L549.3,77.8ZM119.4,103.4L120.8,104.2L118.9,104.6L118.2,103.8ZM600.0,282.1L600.5,282.8L600.6,283.7L601.5,283.6L602.3,283.8L602.4,284.9L602.8,285.9L603.1,286.9L603.9,287.3L604.6,288.0L605.3,288.1L606.0,288.5L606.7,288.7L607.4,288.5L608.2,288.4L608.0,289.2L608.0,290.1L607.9,290.7L607.4,291.2L606.7,291.5L606.0,291.6L605.8,292.5L605.2,293.3L604.8,294.2L604.7,295.2L604.1,295.5L603.6,295.9L602.8,295.2L603.4,294.5L603.6,293.6L602.7,293.2L602.3,292.3L601.6,291.8L602.0,291.0L602.7,290.4L602.6,289.5L602.8,288.7L602.8,287.8L602.3,287.0L602.3,286.1L601.4,285.5L600.9,284.5L600.4,283.7L600.3,282.9L600.0,282.1ZM600.2,293.6L601.0,294.0L601.7,294.4L602.1,295.2L602.1,296.1L601.7,297.1L601.0,298.0L600.3,298.4L600.0,299.1L600.6,300.1L599.8,300.2L599.1,300.4L598.3,300.6L598.0,301.2L597.9,301.9L597.3,302.8L597.0,303.8L596.4,304.2L595.9,304.9L595.2,305.1L594.6,304.8L593.9,305.1L593.1,304.6L592.3,304.7L591.5,304.4L591.2,303.8L591.4,303.0L591.9,302.3L592.4,301.5L593.1,301.0L593.8,300.4L594.6,300.1L595.4,299.6L596.0,298.7L596.9,298.4L597.2,297.7L597.7,297.4L598.1,296.7L598.5,296.1L598.9,295.5L599.2,295.0L599.2,294.4L599.5,293.8L600.2,293.6ZM536.1,166.8L537.1,166.8L536.4,168.1ZM521.4,201.5L523.9,197.7L524.9,196.0L524.5,197.7L521.8,201.8ZM528.0,194.9L529.7,196.2L528.9,197.3L528.2,197.3ZM264.0,129.3L267.4,129.8L266.3,130.4L264.6,130.0ZM191.6,72.9L190.7,72.8L189.9,73.4L189.1,73.6L188.3,74.1L187.4,74.2L186.4,74.5L185.4,74.2L184.4,74.3L183.4,74.3L182.4,73.9L182.9,73.0L183.6,72.4L184.6,72.2L185.4,72.1L186.2,71.5L187.1,71.8L187.9,71.4L188.8,71.4L189.3,72.1L190.2,72.3L190.8,72.7L191.6,72.9ZM260.1,182.4L262.3,182.6L262.1,183.4L260.1,183.4ZM217.9,82.5L217.1,81.9L216.1,81.8L215.4,81.0L214.3,81.0L213.5,80.8L212.7,80.2L211.7,80.7L210.9,80.1L210.1,79.9L210.4,79.2L210.9,78.8L211.8,78.8L212.5,78.2L213.3,78.3L214.1,78.0L214.9,78.2L215.7,78.0L216.4,78.4L217.3,78.5L217.9,79.1L218.1,79.9L218.6,80.6L218.4,81.3L217.9,81.8L217.9,82.5ZM168.3,115.5L168.7,117.0L169.0,118.7L167.5,117.4L166.7,115.5ZM433.7,256.9L434.4,257.3L433.9,257.6ZM245.7,201.0L246.5,201.1L246.9,200.4L247.3,199.8L247.6,199.1L247.9,198.4L248.2,197.7L248.5,197.2L248.7,196.8L249.5,196.4L250.2,196.0L250.8,196.0L251.4,196.0L252.2,195.4L253.0,194.9L253.6,194.4L254.3,193.9L254.4,194.5L254.6,195.1L254.0,195.4L253.4,195.8L253.6,196.3L253.8,196.8L253.8,197.4L253.8,198.1L254.6,198.6L254.6,197.8L254.7,196.9L255.3,196.4L255.8,195.8L255.9,195.2L256.0,194.7L256.3,195.2L256.7,195.6L257.3,196.0L258.0,196.4L258.7,196.8L259.5,197.0L260.4,197.3L261.0,197.6L261.7,197.8L262.3,198.1L263.0,197.8L263.7,197.6L264.3,197.3L265.2,197.2L266.0,197.1L266.6,197.2L267.2,197.3L267.4,197.9L267.6,198.5L268.0,199.2L268.4,199.9L268.8,200.6L269.1,201.3L269.9,201.5L270.6,201.7L271.2,202.3L271.8,202.9L272.4,203.5L272.8,204.0L273.1,204.5L273.5,205.0L274.0,205.6L274.4,206.2L275.3,206.2L276.2,206.2L277.1,206.2L277.9,206.3L278.8,206.4L279.6,206.7L280.3,207.1L280.9,207.6L281.4,208.1L281.9,208.6L282.3,209.0L282.6,209.4L282.8,210.2L283.1,211.0L283.3,211.9L283.5,212.7L283.7,213.5L284.2,213.8L284.6,214.1L284.3,215.0L283.9,216.0L283.6,216.9L284.5,217.3L285.3,217.7L286.0,218.3L286.7,219.0L287.4,218.7L288.0,218.4L288.7,218.7L289.4,218.9L290.1,219.2L290.9,219.8L291.7,220.3L291.9,220.9L292.1,221.6L292.4,222.2L293.1,222.0L293.8,221.8L294.7,222.1L295.6,222.5L296.5,222.8L297.3,222.8L298.0,222.8L298.8,222.8L299.4,223.3L300.1,223.8L300.7,224.3L301.4,225.0L302.0,225.7L302.6,226.3L303.3,226.5L304.1,226.7L304.9,226.9L305.1,227.6L305.3,228.3L305.6,229.0L305.7,229.8L305.8,230.6L306.0,231.4L305.8,232.4L305.7,233.3L305.6,234.3L305.1,234.8L304.6,235.4L304.1,236.1L303.7,236.7L303.3,237.4L302.9,238.0L302.5,238.8L302.2,239.5L301.9,240.3L301.5,241.1L301.0,241.8L300.6,242.6L300.2,243.3L300.1,244.1L300.1,244.9L300.1,245.7L300.0,246.5L300.0,247.4L299.9,248.3L299.8,249.2L299.7,250.1L299.6,251.0L299.4,251.9L299.2,252.8L299.0,253.7L298.8,254.3L298.5,254.9L298.2,255.6L297.9,256.3L297.7,257.1L297.5,257.8L297.2,258.6L296.7,259.2L296.3,259.8L295.8,260.5L295.0,260.6L294.2,260.7L293.5,260.8L292.8,261.0L292.1,261.2L291.5,261.7L291.0,262.2L290.2,262.6L289.5,263.0L288.7,263.5L288.0,264.0L287.4,264.6L286.7,265.2L286.6,265.9L286.5,266.7L286.4,267.4L286.4,268.2L286.4,268.9L286.4,269.7L286.4,270.5L286.0,271.1L285.5,271.7L285.0,272.3L284.6,273.1L284.2,273.9L283.8,274.6L283.5,275.4L283.0,276.0L282.6,276.7L282.2,277.4L281.7,277.7L281.2,278.0L280.8,278.7L280.4,279.4L280.0,280.1L279.6,280.8L279.1,281.6L278.6,282.3L278.0,282.7L277.4,283.1L276.7,283.1L275.9,283.1L275.2,282.7L274.4,282.3L273.8,282.0L273.2,281.6L272.5,281.2L272.4,282.1L273.0,282.8L273.6,283.4L274.2,284.0L274.5,285.0L274.8,285.9L274.5,286.7L274.2,287.5L274.0,288.3L273.7,289.1L273.0,289.5L272.4,289.9L271.7,290.2L270.9,290.4L270.1,290.5L269.4,290.7L268.6,290.8L267.8,290.6L267.0,290.4L267.1,291.1L267.2,291.8L267.3,292.5L267.0,293.2L266.6,293.9L266.3,294.6L265.5,294.6L264.7,294.7L263.9,294.7L263.1,294.8L263.4,295.5L263.7,296.2L264.0,296.8L264.8,297.1L265.2,297.8L264.6,298.0L264.0,298.2L263.2,298.5L262.9,299.3L263.1,300.3L262.8,301.2L262.0,301.9L261.1,302.1L260.2,302.7L260.1,303.8L259.5,304.6L260.1,305.3L260.9,305.9L261.5,306.2L262.2,306.3L261.7,307.0L261.8,308.0L260.9,308.3L260.2,309.1L259.6,309.7L259.7,310.7L259.2,311.4L258.4,311.6L257.9,312.1L257.5,312.9L257.7,313.7L257.7,314.6L258.1,315.2L258.1,315.9L257.5,316.2L256.8,315.9L256.5,316.7L255.7,317.0L255.3,317.9L254.7,318.7L253.9,318.7L253.3,318.3L252.6,318.0L252.0,317.7L251.5,317.1L250.9,316.8L250.1,316.2L249.2,315.9L248.7,315.0L248.5,314.1L248.8,313.2L248.6,312.3L248.6,311.5L248.7,310.7L248.4,309.9L248.2,309.1L248.7,308.2L248.7,307.2L249.0,306.5L250.0,306.4L250.3,305.7L249.7,305.2L248.8,305.7L248.2,305.1L248.7,304.3L249.5,303.6L249.9,302.9L249.4,302.0L249.8,301.2L249.9,300.4L250.9,300.5L251.6,301.2L251.5,300.3L251.7,299.6L252.3,298.9L251.9,298.0L252.3,297.2L251.6,296.7L250.9,296.1L250.7,295.2L250.6,294.2L250.7,293.4L250.9,292.5L250.9,291.8L251.0,291.0L251.1,290.2L251.2,289.5L251.1,288.8L251.1,288.1L251.0,287.4L251.4,286.6L251.7,285.8L252.1,285.0L252.4,284.2L252.7,283.5L252.9,282.7L253.2,282.0L253.4,281.2L253.7,280.3L253.9,279.3L254.1,278.4L254.0,277.4L253.8,276.5L253.7,275.5L253.8,274.6L253.9,273.7L254.0,272.7L254.1,271.8L254.3,271.0L254.4,270.1L254.6,269.3L254.7,268.4L254.9,267.5L255.1,266.6L255.3,265.7L255.3,264.8L255.4,263.8L255.5,262.8L255.5,261.8L255.6,261.0L255.7,260.1L255.7,259.3L255.8,258.5L255.8,257.6L255.8,256.7L255.7,255.7L255.7,254.7L255.6,253.7L255.6,252.8L255.5,251.8L254.8,251.3L254.1,250.9L253.6,250.3L253.1,249.7L252.6,249.2L251.8,248.7L251.1,248.2L250.3,247.7L249.6,247.3L249.2,246.7L248.7,246.1L248.2,245.5L247.6,244.8L247.3,244.1L247.0,243.3L246.8,242.6L246.5,241.8L246.3,241.1L246.0,240.3L245.7,239.4L245.3,238.6L245.0,237.8L244.6,236.9L244.3,236.0L244.0,235.0L243.7,234.1L243.4,233.1L243.0,232.4L242.6,231.6L242.2,230.9L241.7,230.2L241.2,229.6L240.7,229.2L240.2,228.8L240.7,228.0L240.4,227.4L240.2,226.8L240.0,226.2L240.5,225.3L241.0,224.5L241.5,223.7L241.9,223.0L242.2,222.4L241.9,221.4L241.3,220.9L240.7,220.3L240.9,219.7L241.1,219.0L241.3,218.2L241.6,217.4L241.8,216.5L241.9,215.6L242.6,215.4L243.1,215.0L243.5,214.7L243.7,213.8L243.9,213.0L244.4,212.6L244.9,212.2L245.3,211.6L245.8,210.9L245.6,210.2L245.5,209.6L245.6,209.0L245.8,208.4L245.8,207.7L245.8,207.1L245.8,206.4L245.6,205.5L245.5,204.7L245.2,204.2L244.9,203.7L245.2,202.8L245.4,201.9ZM386.3,107.0L388.3,107.0L387.3,107.8ZM556.4,130.6L556.3,129.6L556.7,128.7L556.5,127.8L556.4,126.8L556.6,126.1L556.7,125.3L556.7,124.6L556.8,123.6L556.6,122.5L556.7,121.5L556.5,120.5L556.1,119.5L556.4,118.8L556.4,118.0L556.9,117.4L556.8,116.5L556.8,115.5L557.4,114.9L558.0,115.5L558.0,116.5L558.6,117.0L558.2,117.9L558.5,118.8L558.2,119.7L558.7,120.6L558.9,121.5L559.1,122.4L559.7,123.2L560.1,124.0L560.2,124.9L559.6,124.8L559.2,124.4L558.7,125.2L557.9,126.0L557.4,126.8L557.5,127.9L558.1,128.7L558.5,129.5L558.6,130.4L558.2,129.6L557.4,129.1L556.8,129.8L556.4,130.6ZM531.4,193.7L533.1,194.3L533.4,196.4L532.4,196.0L531.4,193.7ZM364.5,216.5L364.8,216.9L364.5,217.3ZM366.9,140.2L368.3,139.6L369.2,141.0L369.0,143.4L368.3,143.4L367.8,144.0L367.2,143.4L367.3,141.1ZM538.8,222.6L540.6,224.5L536.7,223.5ZM490.6,68.4L489.8,67.8L488.8,68.0L487.9,67.6L487.1,67.2L486.3,66.9L485.3,67.2L484.5,66.9L485.3,66.8L485.7,66.1L486.4,65.9L487.2,65.3L488.2,65.1L489.3,65.1L490.0,64.3L491.0,64.2L491.8,64.6L492.6,64.6L493.3,65.0L494.3,64.8L495.2,65.1L496.2,65.1L497.2,65.3L498.1,65.4L498.9,66.0L499.9,66.4L501.0,66.2L501.7,67.2L502.8,67.2L503.6,67.9L504.7,67.8L504.0,68.3L503.8,69.1L502.9,68.9L502.0,69.0L501.1,68.6L500.1,68.5L499.3,68.7L498.5,69.3L497.7,69.7L496.7,69.8L495.9,69.0L494.9,68.8L493.9,68.8L493.1,68.3L492.3,68.1L491.5,68.1L490.6,68.4ZM301.5,319.1L304.3,319.5L304.6,320.6L302.2,319.8ZM543.2,155.3L542.9,153.4L544.2,152.6L546.0,152.8L546.2,153.6L545.5,154.7L544.2,154.3L543.2,155.3ZM372.9,146.0L374.1,145.3L376.7,145.1L377.3,145.1L376.8,146.8L376.7,148.3L375.7,147.7L372.9,146.4ZM430.8,193.5L432.5,193.5L432.0,194.1L431.1,194.1ZM577.1,229.7L578.2,231.1L577.5,231.2ZM581.5,232.4L583.2,234.1L582.0,234.6L581.0,233.3ZM583.0,235.0L583.9,235.4L583.3,237.1ZM227.1,80.3L226.1,80.7L225.1,79.9L224.2,80.1L223.2,80.3L222.2,80.1L221.6,79.2L220.7,78.8L220.8,78.1L221.3,77.6L222.1,78.0L222.9,78.0L223.8,77.5L224.6,77.8L225.5,77.8L226.4,77.8L226.8,78.6L226.9,79.4L227.1,80.3ZM241.2,97.0L240.4,97.2L239.5,97.2L238.7,96.7L237.8,97.0L237.0,96.7L236.2,96.9L235.7,97.6L234.7,97.3L234.1,98.0L233.4,97.6L232.5,97.8L231.7,97.4L231.8,96.4L232.9,95.8L233.3,94.9L233.4,93.8L234.1,93.6L234.8,93.2L235.6,93.5L236.4,93.5L237.1,93.2L237.7,92.5L238.2,93.2L239.0,93.6L239.1,94.6L239.8,95.2L239.9,96.0L240.9,96.3L241.2,97.0ZM468.4,205.0L468.2,202.2L468.4,200.5L468.8,198.8L470.1,200.5L470.6,201.5L471.2,203.7L470.4,205.6L469.2,206.1L468.4,205.0ZM112.0,97.0L113.7,97.4L116.3,98.0L114.4,98.2L112.0,97.0ZM525.8,227.7L524.6,227.7L524.5,223.9L523.6,223.0L523.9,222.4L524.6,219.2L525.1,216.9L525.6,216.5L527.0,216.7L530.0,216.7L531.6,216.5L532.6,214.3L531.9,214.7L529.9,215.6L527.5,216.4L525.6,216.9L525.9,219.0L526.6,219.9L527.6,218.8L530.0,218.4L528.9,219.4L527.2,220.9L527.7,223.3L529.2,225.8L528.6,226.0L527.5,223.1L526.6,222.2L526.0,225.0L525.8,227.7ZM490.3,206.9L491.2,207.1L493.5,207.5L494.7,209.2L495.7,210.5L497.9,213.3L499.4,213.3L500.5,214.7L501.4,216.2L502.4,217.1L501.8,218.6L503.2,219.4L503.9,221.6L504.9,221.8L505.6,223.1L505.2,225.4L505.2,228.4L503.7,228.4L502.5,226.7L500.7,225.2L499.0,222.6L498.3,221.3L497.1,218.6L496.0,216.9L495.0,213.9L493.7,212.6L493.0,211.1L491.9,209.9L490.5,208.1L490.3,206.9ZM525.6,235.2L526.5,236.7L524.2,235.6ZM520.8,234.1L522.4,232.6L523.9,233.1L522.9,233.9ZM370.6,67.3L371.3,66.7L372.1,67.0L372.8,66.7L373.6,66.7L374.3,67.2L375.1,67.1L375.9,67.1L376.7,67.0L377.4,66.9L378.4,67.1L379.3,66.3L380.2,66.3L381.1,66.4L381.8,65.9L382.6,65.9L383.4,65.6L384.3,66.0L385.3,65.9L386.2,65.8L387.2,65.7L388.2,66.0L389.2,65.3L390.2,65.7L391.2,66.1L392.1,66.0L393.1,65.7L393.8,66.3L392.9,66.4L392.0,66.6L391.1,66.5L390.2,66.5L389.2,66.8L388.3,66.5L387.3,66.6L386.6,67.4L385.8,67.2L384.9,67.3L384.0,67.5L383.2,67.4L382.4,67.2L381.5,67.1L382.0,67.5L381.9,68.2L382.8,68.2L383.5,68.4L384.3,68.9L385.0,69.2L385.9,69.0L385.7,69.7L384.9,69.9L384.1,70.4L383.1,69.9L382.3,70.8L381.4,70.5L380.9,71.1L380.2,71.4L379.7,71.9L379.2,72.4L378.7,72.9L377.8,72.5L377.5,71.5L376.7,71.0L376.1,70.5L375.1,70.7L374.6,69.9L373.9,69.5L373.1,69.6L372.4,69.3L371.8,68.6L371.3,67.9L370.6,67.3ZM525.5,173.8L526.5,170.9L527.5,169.6L528.0,170.9L527.0,174.3L526.3,175.8L525.5,173.8ZM560.3,294.0L562.7,294.8L565.4,294.4L565.6,296.7L565.0,298.4L563.6,299.5L562.2,299.3L561.3,297.8L561.0,296.8L560.3,295.0L560.3,294.0ZM258.1,316.5L258.0,317.1L258.5,317.4L259.1,318.2L259.7,318.9L260.4,319.1L260.7,320.1L261.5,320.2L262.3,320.4L263.1,320.8L262.3,320.8L261.8,321.5L261.1,321.4L260.4,321.8L259.6,321.4L258.9,321.9L258.1,321.7L257.2,321.9L256.2,321.9L255.4,321.2L254.7,320.8L254.0,320.5L253.3,320.0L252.4,319.7L251.6,319.4L250.9,318.7L250.2,318.1L251.0,317.9L251.8,317.9L252.6,318.1L253.2,318.7L254.0,318.7L254.7,319.1L255.1,318.6L255.7,318.3L256.0,317.7L256.3,316.9L257.0,316.5L257.5,316.8L258.1,316.5ZM530.4,236.9L532.6,234.6L535.3,232.9L532.6,235.0L531.0,236.5ZM267.6,196.9L268.9,196.9L268.9,198.3L267.6,198.3ZM438.3,85.0L440.3,85.4L439.5,85.9ZM180.4,126.1L179.8,125.5L178.9,125.6L178.2,125.1L177.5,124.7L176.7,124.6L176.0,124.0L175.0,123.5L174.2,122.8L173.5,121.9L174.1,121.7L174.6,121.4L175.6,121.6L176.5,122.2L177.5,122.5L178.0,123.1L178.7,123.6L179.3,124.2L180.1,125.0L180.4,126.1ZM591.7,246.1L592.2,247.3L591.4,246.7ZM211.9,87.0L211.0,87.1L210.1,87.5L209.1,87.2L208.1,87.2L207.2,87.6L206.4,87.3L205.5,87.7L204.7,87.3L204.0,86.9L203.2,87.2L202.2,87.0L201.6,87.6L200.6,87.6L199.7,87.7L198.8,87.7L197.9,88.3L197.0,87.9L196.1,88.0L195.2,88.2L194.3,88.2L193.5,87.9L192.7,87.7L192.0,87.0L191.0,87.3L190.2,87.0L189.4,86.7L189.5,85.6L188.8,85.2L189.6,85.2L190.2,84.5L190.9,84.4L190.2,84.0L189.4,83.5L188.5,83.8L187.7,83.5L187.1,82.8L186.4,82.3L187.1,81.7L187.7,81.0L188.4,80.3L189.2,80.1L190.1,80.2L190.9,80.1L191.8,79.9L192.5,79.3L193.5,79.1L194.4,79.8L195.4,79.3L196.3,79.7L197.3,79.6L198.3,79.9L199.3,80.0L200.1,80.6L200.9,80.3L201.5,79.7L202.4,79.7L203.3,79.8L204.0,79.1L204.8,79.4L205.6,79.4L206.2,80.1L206.3,80.9L206.9,81.6L207.4,82.2L207.5,83.1L208.3,83.4L209.1,83.7L209.7,84.4L210.5,84.8L210.6,85.7L211.7,86.1L211.9,87.0ZM608.7,82.3L610.4,82.5L610.4,83.7L608.4,83.3ZM100.2,82.5L103.6,82.9L102.4,83.5L100.2,83.7ZM410.8,228.2L411.3,229.0L411.1,229.6ZM370.7,111.0L373.3,111.4L372.9,112.5L372.4,113.8L371.2,113.2L370.7,112.1ZM166.0,112.9L166.3,114.1L165.7,114.3L165.1,113.6L165.4,112.7ZM168.0,114.6L168.5,115.0L168.4,115.6L167.8,115.0ZM163.4,110.1L163.2,110.2L162.9,109.7ZM164.5,111.0L163.8,110.5L163.7,110.1L164.1,109.9L164.6,110.6ZM162.7,110.4L162.2,110.7L162.0,110.0L162.3,109.8ZM166.3,112.7L166.5,113.5L165.5,112.7L165.7,112.1ZM161.6,110.6L161.6,110.0L162.2,110.8ZM162.7,110.2L162.5,110.5L162.2,110.2L162.3,109.9ZM163.1,109.5L163.8,109.9L163.7,110.5L163.2,110.1ZM164.6,114.0L164.9,113.1L165.4,113.4L165.1,114.2ZM161.1,108.8L160.4,108.3L161.0,108.4ZM168.9,116.4L169.4,116.5L169.3,116.9ZM164.3,110.4L164.7,110.7L164.6,111.0L164.2,111.0L164.0,110.6ZM170.5,118.6L170.6,119.0L170.1,118.8L169.8,118.2L170.1,118.2ZM167.3,114.3L167.6,114.6L167.4,115.2L166.7,114.5ZM169.1,115.4L169.7,115.8L169.5,116.1L169.2,115.9ZM165.0,113.1L164.6,112.6L164.8,112.1L165.1,112.6ZM170.9,117.8L171.5,118.0L171.6,118.7L170.9,118.6ZM168.7,115.6L169.1,116.4L168.8,116.4L168.3,115.8L168.3,115.5ZM169.1,115.3L169.8,115.6L169.8,116.5L169.2,116.1ZM161.6,110.7L161.1,109.9L161.6,109.2L162.0,110.0ZM170.1,119.4L169.8,118.6L170.2,118.3L170.7,118.8ZM173.1,120.3L172.4,119.7L172.5,119.1ZM160.2,109.0L160.7,109.0L160.9,109.5L160.3,109.5ZM168.5,116.8L168.9,116.3L169.3,117.0L168.9,117.3ZM164.3,110.2L164.7,110.8L164.4,111.0L163.8,110.4ZM167.1,114.8L167.7,114.5L168.1,115.4ZM171.5,120.8L171.0,119.9L171.2,119.4L172.0,120.6ZM169.6,116.1L169.9,116.1L170.3,116.7L170.2,117.0L169.8,116.7ZM168.8,116.3L168.2,116.2L168.0,115.4L168.5,115.3ZM162.5,108.7L162.4,109.2L161.6,108.8L161.5,108.2ZM164.4,112.3L164.6,112.9L164.0,112.7L164.0,112.2ZM162.2,109.2L162.2,108.6L163.0,109.2L162.9,109.9ZM169.1,115.0L168.3,114.6L168.3,114.0L168.9,114.2ZM250.3,311.3L249.5,311.2L249.3,310.2L250.1,310.0ZM249.2,307.9L249.4,307.1L249.6,307.5L249.4,308.2ZM257.8,319.5L257.4,319.1L257.6,318.9L257.9,318.9L258.1,319.3ZM249.8,314.3L250.5,313.7L250.6,314.9ZM249.7,303.4L250.2,302.8L250.4,303.8L249.9,304.4ZM251.1,302.0L250.8,302.5L250.8,302.0L251.0,301.6ZM257.8,320.5L257.2,320.4L257.1,319.6L257.7,319.8ZM250.8,314.4L250.4,313.2L251.1,313.5L251.6,314.8ZM256.7,318.7L257.1,318.8L257.0,319.1L256.5,318.8ZM251.3,296.6L250.9,297.1L251.0,295.8L251.5,295.6ZM249.9,313.4L250.2,312.7L250.6,313.0L250.7,313.9ZM250.8,303.7L250.9,302.3L251.4,302.1L251.4,303.2ZM251.0,298.8L251.1,298.4L251.3,298.2L251.2,299.0ZM249.4,310.2L249.0,310.8L248.5,310.0L249.0,309.3ZM251.6,301.5L251.3,301.9L251.2,301.3L251.4,300.8L251.7,300.8ZM251.0,298.4L250.6,298.0L250.9,297.2L251.3,297.6ZM252.2,298.4L251.7,298.5L251.9,297.5L252.2,297.7ZM250.2,314.3L250.5,315.0L250.0,315.4L249.6,315.1L249.7,314.5ZM251.5,315.5L251.9,315.0L252.6,315.6L252.5,316.4ZM254.1,316.9L254.5,317.6L254.0,317.6L253.4,317.0ZM248.9,311.1L249.4,310.6L249.6,311.1L249.3,311.8L248.9,311.6ZM257.2,320.0L257.0,320.3L256.6,320.1L256.8,319.8ZM252.2,315.7L252.4,317.0L251.4,316.4ZM253.1,318.4L252.8,317.6L253.8,317.7L254.0,318.6ZM250.4,302.7L250.6,303.1L250.4,304.2L250.1,304.3L249.9,303.3ZM249.4,314.4L249.7,314.4L250.2,315.2L250.1,315.6L249.6,315.0ZM250.2,307.8L250.2,307.1L250.5,307.0L250.7,307.5L250.6,308.1ZM249.9,305.8L250.1,307.1L249.6,307.0ZM251.1,316.4L251.3,317.3L250.6,316.6ZM250.4,307.4L250.1,308.4L249.5,308.2L249.8,306.7ZM250.5,315.9L250.7,315.7L251.2,316.4L251.1,316.8ZM249.5,305.6L249.4,306.1L249.2,306.1L249.2,305.7L249.4,305.4ZM250.9,303.5L250.7,303.1L251.0,302.7L251.1,303.0ZM251.5,297.4L251.6,296.7L251.8,296.6L252.1,297.0L251.8,297.6ZM248.8,306.7L249.2,305.7L249.4,306.6L248.9,307.5ZM249.4,307.2L249.4,307.9L249.2,307.8ZM250.3,312.5L250.5,312.8L250.6,313.5L250.3,313.2ZM253.1,317.8L252.8,318.4L251.8,317.6L252.2,317.3ZM250.5,305.0L250.7,305.6L250.3,306.3ZM250.1,314.6L249.8,313.2L250.9,313.8L251.1,315.1ZM366.8,96.9L367.2,96.6L367.4,97.2L367.0,97.5ZM378.6,86.7L377.7,87.0L377.8,86.2L378.4,85.9ZM384.9,84.8L384.8,84.0L385.5,83.8L385.7,84.4ZM372.2,92.8L371.8,93.4L371.5,93.3L371.9,92.6ZM365.2,98.1L365.4,98.4L365.4,98.6L365.0,98.6L365.0,98.4ZM382.1,85.2L382.6,85.3L382.3,86.0L381.8,85.9ZM375.7,89.0L375.4,89.4L375.2,89.1L375.5,88.8ZM369.8,96.2L369.6,96.4L369.6,96.2L369.8,95.9ZM373.4,91.0L373.4,91.2L372.9,91.7L372.9,91.5L373.0,91.1ZM381.4,85.1L381.5,85.4L381.0,85.8L381.0,85.5ZM371.2,94.8L370.8,95.3L370.6,95.1L371.0,94.6ZM375.3,88.9L375.7,88.8L375.7,89.0L375.3,89.3ZM364.2,99.2L364.1,99.6L363.7,99.7L363.8,99.1ZM362.0,102.8L361.8,103.1L361.7,102.6L362.0,102.5ZM362.1,104.8L361.7,104.8L361.9,104.0ZM362.8,100.2L363.4,99.9L363.0,100.7L362.5,101.0L362.5,100.5ZM364.1,98.5L364.2,98.9L363.8,99.3L363.5,99.1L363.6,98.7ZM362.3,100.3L362.5,100.1L362.8,100.3L362.8,100.6L362.3,100.7ZM377.7,87.1L377.5,87.6L377.0,87.6L377.4,87.2ZM374.0,90.6L373.5,90.7L373.8,90.0ZM375.6,89.1L376.0,88.9L376.0,89.1L375.7,89.3ZM374.9,89.6L375.3,89.1L375.7,89.1L375.3,89.9L374.9,89.9ZM379.3,86.6L379.0,86.3L379.7,86.2ZM367.9,97.1L368.6,96.5L368.6,97.3ZM364.7,99.0L365.2,98.5L365.3,98.8L365.0,99.3ZM381.9,85.6L382.0,85.9L381.4,86.2L381.2,86.0L381.4,85.5ZM362.7,99.9L363.0,99.7L363.1,99.9L362.8,100.1ZM383.9,85.3L383.4,85.4L383.1,85.2L383.3,85.0L383.8,84.9ZM362.3,103.9L362.3,104.8L361.8,104.9L361.8,103.8ZM383.0,84.7L382.6,85.2L382.3,85.0ZM287.8,103.2L288.3,103.1L288.8,103.8L288.3,103.9ZM274.0,77.8L274.5,78.3L274.3,78.7L274.0,78.2ZM278.8,90.0L278.3,88.9L279.0,88.4ZM279.4,91.6L279.7,91.1L279.9,91.4L279.7,92.1ZM278.7,89.3L278.9,88.0L279.3,88.5L279.3,89.6ZM289.4,103.0L290.0,103.5L290.0,103.9L289.3,103.9L289.0,103.4ZM284.2,100.1L284.5,100.6L284.2,100.5L284.0,100.0ZM284.4,100.9L283.9,100.4L284.3,100.1L284.7,100.6ZM275.4,80.3L275.2,79.9L275.2,79.5L275.7,79.7L275.9,80.4ZM278.0,84.5L278.3,84.9L278.2,85.3L277.8,85.3L277.7,84.6ZM274.1,78.4L274.1,79.0L273.4,78.9L273.2,78.0ZM272.3,76.1L271.8,75.9L271.8,75.3ZM278.6,85.0L278.6,86.0L278.0,85.6L277.9,84.7ZM291.4,105.3L291.1,105.7L290.9,105.2ZM287.4,102.9L287.8,103.7L287.2,103.7L286.8,103.0ZM277.7,86.3L277.3,86.1L277.2,85.2L277.6,85.5ZM289.5,103.8L289.3,104.5L288.6,104.0ZM278.3,87.7L278.3,87.2L278.7,87.7L278.5,88.0ZM278.5,88.2L278.7,87.3L279.2,88.2L279.0,88.6ZM287.7,103.1L287.6,103.8L287.1,103.2ZM285.9,102.0L286.3,101.5L287.1,102.2L286.6,102.4ZM279.2,92.3L279.0,90.9L279.4,91.1L279.5,92.3ZM298.0,97.0L298.3,97.3L297.6,98.2L297.3,97.6ZM322.3,85.0L322.4,85.9L321.5,86.4L321.1,85.4ZM323.7,85.2L323.1,85.7L323.0,84.5L323.3,84.1L324.0,84.1ZM317.6,89.4L317.9,88.8L318.3,89.0ZM317.6,88.0L317.8,88.3L317.1,88.6L317.0,88.3ZM317.0,88.8L318.3,87.9L318.3,88.6ZM329.4,69.3L329.2,68.6L329.5,67.2L329.9,67.2L330.1,68.4ZM325.3,81.4L324.9,82.5L324.5,81.9ZM329.1,75.1L328.5,74.4L329.1,73.2L329.4,73.7ZM317.0,90.2L316.5,89.6L317.2,88.8L318.1,89.3L317.5,90.1ZM305.5,92.5L304.8,92.9L304.5,92.3L305.2,91.7ZM318.6,88.1L318.2,87.8L318.9,86.9L319.5,87.2ZM297.3,99.1L296.7,99.5L297.2,98.7ZM329.4,75.5L329.3,75.2L329.3,74.7L329.7,74.8L329.7,75.3ZM319.7,88.1L319.8,87.3L320.4,87.3ZM324.3,84.7L323.8,84.3L324.2,83.3L324.8,83.6ZM313.8,89.5L314.3,89.3L314.6,89.8L314.1,90.0ZM325.5,81.1L325.5,80.1L326.0,80.1L326.0,80.6ZM305.1,92.5L305.1,93.1L304.2,93.3L304.4,92.5ZM298.1,98.2L297.2,99.1L297.1,98.2ZM324.5,81.2L325.0,81.2L324.9,82.1L324.3,82.7L324.1,82.1ZM297.5,98.3L298.1,97.7L297.9,98.3ZM243.4,78.2L247.6,79.1L245.5,79.9L241.2,78.8ZM212.9,72.2L207.2,72.9L208.6,71.6L212.5,71.2ZM217.9,73.3L214.3,73.7L215.0,72.7ZM198.7,70.6L194.0,70.8L196.6,69.7ZM195.2,69.3L190.9,69.9L192.3,68.8ZM207.2,71.2L204.4,71.8L205.4,70.6ZM220.0,81.6L217.9,82.0L219.0,80.6ZM244.1,89.9L241.9,90.3L242.9,89.1ZM233.4,81.0L231.3,81.6L232.0,80.4ZM210.8,66.9L207.2,67.6L208.6,66.3ZM226.4,72.5L222.8,72.9L224.2,72.0ZM249.0,99.5L247.6,99.9L248.3,98.9ZM243.2,111.7L242.1,111.9L242.6,111.2ZM258.9,91.2L256.8,91.6L257.5,90.4ZM423.3,65.4L425.4,65.9L421.9,66.5ZM436.1,65.4L438.2,65.9L434.7,66.3ZM441.7,65.0L443.9,65.6L440.3,66.1ZM430.4,65.6L431.8,66.1L429.0,66.3ZM494.2,69.0L495.6,69.7L492.0,69.5ZM499.8,66.7L501.3,67.8L498.4,67.4ZM545.2,82.1L545.9,82.9L543.8,82.7ZM567.9,80.4L569.3,81.4L565.7,81.0ZM582.0,83.3L583.4,84.0L580.6,83.8ZM474.3,77.2L475.7,78.0L472.9,77.8ZM468.7,78.6L470.1,79.3L467.2,79.1ZM464.4,79.5L465.1,80.4L463.0,80.1ZM506.9,69.7L508.3,70.6L505.5,70.3ZM555.1,78.2L556.5,79.1L553.7,78.8ZM346.5,107.4L345.0,108.3L345.7,107.0ZM346.5,108.9L345.7,109.5L346.1,108.5ZM346.8,110.8L346.2,111.2L346.5,110.4ZM351.3,106.3L350.5,106.3L351.0,105.9ZM353.5,103.1L353.9,104.0L353.2,103.8ZM391.2,147.4L391.6,147.7L391.0,147.9ZM392.1,143.4L393.0,143.2L392.6,144.0ZM395.0,148.7L395.4,149.3L394.7,149.4ZM389.7,146.4L390.3,146.6L390.0,147.0ZM540.2,232.0L541.6,230.7L541.2,232.4ZM545.5,227.7L546.3,230.1L545.6,229.6ZM535.7,231.6L536.4,231.4L535.5,232.0ZM527.5,237.1L528.2,236.7L527.9,237.5ZM534.1,212.6L535.0,210.1L534.6,211.8ZM523.1,228.6L523.6,228.2L523.4,229.0ZM539.5,157.0L540.1,157.5L539.5,157.7ZM531.0,171.5L531.4,171.1L531.3,171.7ZM241.5,167.2L242.2,166.4L241.8,167.0ZM246.9,170.6L247.5,171.5L247.0,171.9ZM248.3,172.8L249.0,173.6L248.5,173.9ZM251.6,177.1L251.9,177.7L251.2,177.3ZM252.6,176.2L253.6,176.2L253.0,176.6ZM131.8,213.7L132.3,213.2L132.8,213.7L132.3,214.2ZM226.1,218.4L226.9,217.5L227.8,218.4L226.9,219.3ZM110.9,243.1L111.4,242.5L112.0,243.1L111.4,243.7ZM114.1,253.3L114.6,252.8L115.0,253.3L114.6,253.8ZM106.5,257.3L107.0,256.7L107.5,257.3L107.0,257.8ZM142.9,250.5L143.5,249.9L144.0,250.5L143.5,251.1ZM104.5,300.2L105.2,299.5L105.9,300.2L105.2,301.0ZM199.9,268.4L200.3,267.9L200.7,268.4L200.3,268.8ZM534.1,154.3L534.7,154.0L535.2,154.2L534.7,154.7Z" fill="#eeeeee" stroke="#555" stroke-width="0.6" stroke-linejoin="round"/><path d="M422.6,131.3L424.7,129.8L427.9,128.7L430.4,129.1L430.5,131.9L428.0,132.1L428.3,133.8L426.6,133.6L427.9,135.9L429.8,136.6L430.1,138.7L431.7,137.9L432.8,140.2L431.4,141.3L431.7,143.4L431.7,147.0L428.3,147.9L426.6,146.8L424.7,146.4L424.6,144.9L425.2,142.7L425.4,141.5L426.7,141.3L425.4,140.8L424.2,138.5L422.6,136.4L422.6,135.1L421.5,133.6L422.6,131.3Z" fill="#fff" stroke="#555" stroke-width="0.6"/><path d="M437.8,131.5L439.6,131.0L441.7,132.1L440.3,134.0L438.2,134.4L437.8,131.5Z" fill="none" stroke="#555" stroke-width="0.6"/><path d="M461.4,147.2L461.3,146.8L461.4,144.9L460.0,144.7L459.7,143.0L460.0,142.5L462.3,140.8L463.7,141.1L465.1,140.0L466.5,138.9L468.8,137.9L468.9,136.4L469.9,135.9L468.8,132.9L471.4,131.9L472.2,131.5L473.2,128.1L476.0,128.7L476.7,127.8L476.9,125.9L478.3,124.7L479.0,124.7L479.7,124.6L481.1,126.6L483.3,127.4L484.1,129.6L484.2,131.3L487.8,132.5L490.3,133.8L491.8,136.8L497.0,137.0L499.6,137.2L502.5,138.3L504.1,138.9L506.8,137.8L510.0,137.2L511.7,136.6L513.9,134.9L513.0,133.4L514.0,132.3L516.3,132.9L517.5,131.7L519.2,131.7L520.7,129.8L521.7,129.5L523.8,129.1L524.9,129.3L525.2,128.5L524.1,127.8L522.6,126.8L521.5,127.4L520.1,127.0L519.0,126.6L519.7,125.1L520.7,123.4L522.4,124.0L524.3,122.9L524.3,121.9L525.6,120.0L526.6,118.9L526.3,118.1L527.6,116.8L530.4,116.5L532.4,117.0L533.7,117.8L534.7,119.7L535.7,121.7L536.3,123.4L538.7,124.2L540.4,125.1L540.9,127.4L543.1,127.2L544.3,126.4L546.2,126.3L545.5,128.3L545.0,130.0L543.9,132.3L542.2,131.9L540.9,132.7L541.4,135.5L541.2,136.4L540.4,137.4L538.9,137.4L538.1,138.1L536.8,139.3L535.3,138.5L534.1,139.8L532.6,141.0L531.4,142.1L530.0,142.7L528.3,143.4L527.3,144.2L527.6,143.2L527.3,142.3L528.5,141.1L527.6,140.2L526.5,140.8L524.8,142.1L523.9,143.4L522.5,143.4L521.8,144.4L522.5,145.5L523.8,145.9L523.9,147.2L524.9,147.4L526.5,146.0L527.7,146.6L528.9,146.8L528.7,147.7L526.9,148.1L526.2,149.3L524.9,150.2L524.2,151.5L525.6,152.5L526.2,154.3L527.0,156.0L528.0,157.5L527.2,159.4L527.5,160.6L528.2,161.1L527.7,162.6L527.3,164.1L525.9,166.2L524.8,168.9L523.9,170.0L523.2,170.9L521.5,172.8L520.4,174.1L519.5,174.3L518.0,174.3L517.1,175.3L516.6,174.9L515.7,175.6L514.0,176.2L512.6,176.8L511.7,177.3L511.7,178.8L511.2,179.0L510.6,177.7L511.0,177.0L509.0,176.4L508.2,176.8L507.5,176.6L506.4,175.3L506.5,174.3L505.2,174.1L504.5,173.4L503.4,174.3L502.7,174.5L501.7,174.3L500.8,174.5L500.0,175.1L499.4,175.1L499.6,177.3L498.7,177.0L497.1,176.8L495.9,175.6L496.3,174.1L495.2,172.2L493.6,172.2L493.7,170.2L495.2,168.5L495.2,165.5L494.4,165.1L493.3,164.1L491.6,163.8L491.5,161.9L489.3,162.1L487.6,163.4L486.4,164.7L485.2,164.9L483.8,164.3L482.1,164.3L481.0,164.3L480.1,164.7L478.4,164.6L476.9,164.1L474.6,163.0L473.3,161.7L471.9,160.6L470.2,160.4L468.9,159.4L468.2,159.1L466.8,157.9L466.4,156.2L466.7,155.5L466.5,154.2L467.1,152.6L465.5,150.4L464.4,150.0L463.3,149.8L462.3,148.1L461.4,147.2Z" fill="#5cb4e2" stroke="#666" stroke-width="0.5" stroke-linejoin="round"/><path d="M525.5,173.8L526.5,170.9L527.5,169.6L528.0,170.9L527.0,174.3L526.3,175.8L525.5,173.8Z" fill="#5cb4e2" stroke="#666" stroke-width="0.5" stroke-linejoin="round"/><path d="M509.2,181.1L510.0,179.8L511.0,179.0L512.0,179.4L512.6,180.4L511.9,182.2L510.6,183.0L509.9,182.6L509.2,181.1Z" fill="#5cb4e2" stroke="#666" stroke-width="0.5" stroke-linejoin="round"/><path d="M481.4,175.6L481.3,176.4L480.3,176.4L478.6,176.8L477.9,179.2L475.9,180.5L474.2,182.8L473.2,183.9L471.8,185.3L471.8,186.0L471.1,186.6L469.8,187.3L469.1,187.3L468.7,188.8L468.9,191.3L469.1,192.8L468.5,194.5L468.5,197.7L467.7,197.9L467.1,199.4L467.5,200.0L466.3,200.5L465.7,201.7L465.1,202.2L463.8,200.5L463.1,197.9L462.6,196.0L462.1,195.1L461.4,193.4L461.0,190.9L460.7,189.8L459.4,187.1L458.9,183.6L458.5,181.1L458.5,178.8L458.2,177.0L456.2,178.1L455.2,177.7L453.4,175.6L453.9,174.9L453.5,174.3L451.9,172.6L452.8,171.5L455.9,171.3L455.3,168.9L454.6,167.2L453.8,166.4L455.2,164.5L457.2,164.7L458.5,162.8L459.3,160.9L460.9,158.9L461.0,157.2L462.0,156.4L463.7,156.2L465.3,156.2L466.4,156.2L466.8,157.9L468.2,159.1L468.9,159.4L470.2,160.4L468.8,163.0L470.5,164.1L473.3,165.7L475.2,165.8L476.9,167.2L478.9,167.5L480.1,167.5L480.3,165.7L480.1,164.7L481.0,164.3L481.3,165.8L482.5,167.0L484.2,166.8L485.8,166.8L485.8,165.5L485.2,164.9L486.4,164.7L487.6,163.4L489.3,162.1L491.5,161.9L491.6,163.8L493.3,164.1L492.6,165.3L490.2,167.2L489.3,169.8L488.8,172.2L487.6,172.2L487.2,174.5L486.7,175.8L486.2,173.0L485.5,172.8L484.8,174.3L484.5,172.6L485.5,171.5L486.2,170.2L485.0,169.8L482.7,169.6L482.5,168.1L480.8,167.5L480.1,168.7L481.0,169.8L480.7,171.5L481.4,173.8L481.4,175.6Z" fill="#44a4d9" stroke="#666" stroke-width="0.5" stroke-linejoin="round"/><path d="M537.1,144.5L537.5,145.5L538.4,146.8L538.8,147.9L538.8,150.2L538.2,151.1L537.0,151.5L535.8,152.3L534.6,152.5L534.4,151.5L534.7,150.0L534.6,148.5L535.1,147.7L534.1,146.2L534.8,145.9L535.4,145.1L536.7,145.1L537.2,144.5Z" fill="#d6f0fb" stroke="#666" stroke-width="0.5" stroke-linejoin="round"/><path d="M509.0,176.4L507.9,177.1L506.9,177.7L506.4,178.3L505.8,179.6L505.1,181.3L505.2,182.4L506.4,184.3L507.3,185.8L508.8,187.3L509.6,188.5L510.2,192.0L510.0,195.2L508.9,196.6L507.2,197.7L506.1,199.4L504.4,201.1L503.8,200.0L504.1,198.6L503.1,197.5L503.4,197.7L504.2,196.8L505.8,196.6L506.1,195.2L507.8,194.1L507.6,191.9L507.8,189.8L507.8,188.6L507.5,187.0L506.8,186.0L506.2,184.5L504.9,183.0L504.2,182.1L502.5,180.9L503.4,180.2L503.9,179.0L503.2,178.1L502.0,178.3L501.3,177.7L501.0,176.4L500.0,175.1L500.8,174.5L501.7,174.3L502.7,174.5L503.4,174.3L504.5,173.4L505.2,174.1L506.5,174.3L506.4,175.3L507.5,176.6L508.2,176.8L509.0,176.4Z" fill="#d2eefa" stroke="#666" stroke-width="0.5" stroke-linejoin="round"/><path d="M501.4,196.2L500.7,194.3L499.4,193.5L498.1,193.5L498.3,192.0L497.1,192.0L497.0,194.1L495.9,197.9L495.9,200.0L496.9,200.0L497.4,201.7L497.7,203.4L498.4,204.3L499.3,204.7L500.0,205.6L498.6,206.6L497.1,205.0L496.6,204.5L496.3,203.5L494.9,201.5L494.6,202.6L494.4,201.7L494.7,200.3L495.0,198.6L495.9,196.8L496.4,194.9L495.9,193.0L495.7,191.3L494.9,190.0L494.4,188.6L495.0,187.0L495.4,186.2L493.9,184.1L493.7,182.4L494.2,180.2L495.4,180.0L496.3,179.2L497.1,178.8L497.9,179.4L497.7,180.5L498.7,180.5L498.4,182.6L498.6,184.3L500.0,183.0L501.3,183.4L501.8,182.6L502.7,182.8L503.7,184.5L503.8,186.4L504.9,187.9L504.8,190.2L503.8,190.2L502.2,190.2L501.1,190.5L500.4,191.7L500.7,193.4L501.4,196.2Z" fill="#d0edfa" stroke="#666" stroke-width="0.5" stroke-linejoin="round"/><path d="M435.1,170.2L435.8,171.7L436.6,172.2L437.6,172.6L438.5,172.8L439.6,174.5L440.0,174.9L439.3,177.0L438.8,177.5L438.2,178.8L437.2,179.2L437.1,180.2L437.2,181.3L437.1,181.7L435.5,182.2L435.1,183.6L434.2,183.7L433.7,184.9L433.2,185.4L430.5,185.8L429.0,181.5L433.2,179.6L434.2,175.8L433.5,174.5L434.4,171.9L434.7,171.1L435.1,170.2Z" fill="#d5effa" stroke="#666" stroke-width="0.5" stroke-linejoin="round"/><path d="M359.6,137.2L359.6,138.3L358.3,139.6L356.4,140.0L356.3,140.6L355.4,141.7L354.9,143.2L355.4,144.4L354.6,145.1L354.3,146.4L353.3,146.8L352.3,148.1L349.1,148.1L348.2,148.9L347.6,149.6L347.4,149.4L346.4,148.3L345.5,147.2L344.8,147.2L344.7,145.7L345.4,144.7L345.0,142.8L345.5,141.3L345.7,140.0L346.5,138.9L345.9,138.1L343.7,137.9L342.7,137.9L342.1,136.4L343.5,135.1L345.4,135.1L347.5,135.3L350.2,135.3L352.7,135.5L354.3,136.4L356.3,136.6L357.7,137.2L359.6,137.2Z" fill="#d6f0fb" stroke="#666" stroke-width="0.5" stroke-linejoin="round"/><path d="M282.6,209.4L283.7,213.5L284.6,214.1L283.6,216.9L285.3,217.7L286.7,219.0L288.0,218.4L290.1,219.2L291.7,220.3L292.4,222.2L293.8,221.8L296.5,222.8L298.8,222.8L300.7,224.3L302.6,226.3L304.9,226.9L305.6,229.0L306.0,231.4L305.6,234.3L304.6,235.4L302.9,238.0L301.9,240.3L300.2,243.3L300.0,246.5L299.6,251.0L299.0,253.7L298.2,255.6L297.2,258.6L295.8,260.5L294.2,260.7L292.1,261.2L291.0,262.2L288.7,263.5L286.7,265.2L286.4,267.4L286.4,270.5L285.0,272.3L283.5,275.4L282.2,277.4L281.2,278.0L279.6,280.8L279.1,277.6L276.5,275.5L273.7,274.2L276.7,269.9L279.2,266.7L277.9,265.6L278.4,262.5L276.7,261.6L276.2,259.3L273.3,259.0L273.3,255.4L272.8,254.6L272.7,248.0L269.6,245.8L268.9,242.7L264.8,240.9L262.8,237.7L260.9,236.0L256.7,237.9L255.3,238.0L255.3,235.2L252.4,235.2L250.6,231.1L252.0,227.3L256.3,225.2L257.0,219.4L256.8,215.4L260.5,215.0L261.8,215.8L264.6,213.0L263.5,209.6L266.5,209.8L269.3,207.5L270.1,208.8L270.8,209.9L270.4,212.8L270.7,213.9L272.4,214.8L275.2,213.7L278.8,213.2L280.3,213.2L282.6,209.4Z" fill="#d0eefa" stroke="#666" stroke-width="0.5" stroke-linejoin="round"/><path d="M441.6,161.1L443.9,161.9L449.4,160.9L451.4,157.7L453.5,157.2L455.2,153.4L456.0,151.9L456.6,149.3L461.4,146.8M382.8,138.3L384.5,138.3L385.1,140.4L383.8,142.7M372.0,249.7L374.4,249.3L381.5,250.1L385.1,251.2L388.5,250.5M277.9,265.6L279.2,266.7L276.7,269.9L273.7,274.2M266.5,259.1L268.9,262.4L272.5,265.4L272.3,268.8L275.5,269.1L277.9,265.6M273.7,274.2L272.8,278.6L272.5,281.2M374.9,125.3L376.6,124.9L379.2,125.7L379.4,126.8M374.7,129.6L378.0,129.3L378.7,127.8L379.4,126.8M370.2,128.9L372.9,128.7L374.7,129.6M418.8,142.5L421.2,144.0L423.3,143.2L424.6,144.9M377.5,132.1L382.4,132.7L382.8,135.1L381.5,137.2M486.7,175.8L486.5,177.0L486.1,178.1M360.1,120.4L361.7,120.4L363.5,121.0L363.9,121.5M347.5,197.7L349.2,192.4L352.2,190.5L355.6,189.2L357.3,193.2L358.3,193.4L356.6,196.6M387.0,137.6L388.6,139.3L392.3,139.4L392.7,138.5L395.0,138.1M387.5,134.0L387.2,137.6M357.6,205.6L357.6,200.1L356.6,196.6M510.6,213.5L512.6,215.0L517.5,214.5L519.4,211.6L521.5,209.4L522.4,209.6M266.5,259.1L264.0,260.3L262.2,259.0L260.2,260.1M256.7,237.9L260.9,236.0L262.8,237.7L264.8,240.9L268.9,242.7L269.6,245.8L272.7,248.0L272.8,254.6M260.2,260.1L258.7,257.8L258.0,253.9L257.4,251.8L256.4,250.7M272.8,254.6L271.6,253.7L267.9,254.2L267.0,255.9L266.5,259.1M481.0,164.3L482.1,164.3L483.8,164.3L485.2,164.9M383.6,264.0L387.2,266.3L391.4,265.9L393.6,262.5L397.0,259.1M391.2,250.9L392.3,254.1L394.7,256.9L397.0,259.1M388.6,120.0L393.6,120.0L399.7,119.1M411.8,135.5L415.5,135.7L418.8,136.8L421.2,138.5L424.2,138.5M416.9,139.8L421.2,140.0M372.6,228.6L378.4,228.4L380.2,232.6L382.8,232.4L386.2,231.1L386.3,235.2L386.9,238.0L389.3,238.0L389.3,241.8L386.5,241.8M372.3,226.7L375.1,225.8L378.0,223.0L380.1,219.2L380.5,215.4L381.5,210.7L378.7,210.7M397.0,232.9L396.7,228.6L397.1,225.8L396.4,222.6M389.3,238.0L391.2,238.4L393.6,239.2L395.7,241.2L397.5,242.6L397.2,240.3L395.5,234.6L397.0,232.9M378.7,210.7L381.5,209.2L386.5,209.4L390.7,207.7L394.1,207.7M387.7,197.5L389.6,200.9L394.1,207.7M365.2,130.8L368.1,130.6L370.2,129.6L368.9,128.5M344.7,209.0L343.1,202.8M343.1,202.8L343.7,198.3L346.5,197.5L347.5,197.7L351.3,199.2M260.2,260.1L258.1,263.5L258.4,268.2L256.7,273.9L256.1,279.5L255.4,285.2L254.6,291.8L253.6,296.5L254.0,301.2L252.9,306.8L251.4,310.6L252.7,314.4L257.0,315.7L258.1,315.9M258.1,316.5L258.1,320.8M377.3,203.2L375.8,208.8L378.0,213.2M375.8,193.2L376.7,198.5L375.4,203.4L377.3,203.2M485.2,164.9L486.4,164.7L487.6,163.4L489.3,162.1L491.5,161.9L491.6,163.8L493.3,164.1M465.5,150.4L467.1,152.6L466.5,154.2L466.7,155.5L466.4,156.2L466.8,157.9L468.2,159.1L468.9,159.4L470.2,160.4M540.4,137.4L538.9,137.4L538.1,138.1L536.8,139.3L535.3,138.5L534.1,139.8L532.6,141.0L531.4,142.1M479.7,124.6L481.1,126.6L483.3,127.4L484.1,129.6L484.2,131.3L487.8,132.5L490.3,133.8L491.8,136.8L497.0,137.0L499.6,137.2L502.5,138.3L504.1,138.9L506.8,137.8L510.0,137.2L511.7,136.6L513.9,134.9L513.0,133.4L514.0,132.3L516.3,132.9L517.5,131.7L519.2,131.7L520.7,129.8L521.7,129.5L523.8,129.1L524.9,129.3L525.2,128.5L524.1,127.8L522.6,126.8L521.5,127.4L520.1,127.0L519.0,126.6L519.7,125.1L520.7,123.4M465.5,150.4L464.4,150.0L463.3,149.8L462.3,148.1L461.4,147.2M520.7,123.4L522.4,124.0L524.3,122.9L524.3,121.9L525.6,120.0L526.6,118.9L526.3,118.1L527.6,116.8L530.4,116.5L532.4,117.0L533.7,117.8L534.7,119.7L535.7,121.7L536.3,123.4L538.7,124.2L540.4,125.1L540.9,127.4L543.1,127.2L544.3,126.4L546.2,126.3L545.5,128.3L545.0,130.0L543.9,132.3L542.2,131.9L540.9,132.7L541.4,135.5L541.2,136.4L540.4,137.4M461.4,147.2L461.3,146.8L461.4,144.9L460.0,144.7L459.7,143.0L460.0,142.5L462.3,140.8L463.7,141.1L465.1,140.0L466.5,138.9L468.8,137.9L468.9,136.4L469.9,135.9L468.8,132.9L471.4,131.9L472.2,131.5L473.2,128.1L476.0,128.7L476.7,127.8L476.9,125.9L478.3,124.7L479.0,124.7L479.7,124.6M260.5,215.0L256.8,215.4L257.0,219.4L256.3,225.2M248.7,217.5L245.9,215.8L243.6,214.7M245.7,201.0L244.9,203.7M256.3,225.2L255.1,224.5L252.0,221.8L250.9,219.8L248.7,217.5M253.0,196.4L252.6,200.3L253.4,203.4L256.0,204.1L259.7,205.6L259.2,208.8L259.9,212.0L260.5,215.0M237.8,202.1L238.3,199.2M379.2,125.7L381.9,124.0M374.9,125.3L373.7,127.8L368.9,127.8M363.9,121.5L364.4,124.0M368.9,127.8L366.1,127.6M376.6,121.0L372.4,122.5L374.9,125.3M367.6,113.8L369.0,114.0M365.5,116.8L364.8,119.3L363.8,119.7L363.9,121.5M375.4,115.7L376.0,118.1L376.6,121.0M368.8,160.2L369.3,162.8L368.6,167.9L369.9,171.3L372.2,173.0M343.0,165.8L348.5,170.2L357.0,177.5L359.8,181.3L361.4,181.1L363.5,180.7L365.9,178.1L372.2,173.0M367.5,147.7L366.9,152.1L365.9,154.2L368.1,156.8L368.8,160.2M248.7,217.5L248.2,219.0L244.3,223.7L243.1,226.5L241.5,223.7M390.7,175.8L407.6,175.8M343.0,165.8L343.0,168.3L338.3,168.3L338.3,173.0L336.9,177.1L331.1,177.1M369.2,215.4L371.3,215.4L371.3,213.2M344.8,147.2L344.7,145.7L345.4,144.7L345.0,142.8L345.5,141.3L345.7,140.0L346.5,138.9L345.9,138.1L343.7,137.9L342.7,137.9M415.2,193.7L414.5,195.6L415.9,196.6L416.7,194.9M407.0,190.3L409.0,189.2L412.1,190.0L415.2,193.7M404.9,207.9L409.9,210.5L414.7,209.8M415.9,196.6L417.6,200.3L423.3,202.2L419.1,207.9L414.7,209.8M278.8,213.2L280.3,213.2L282.6,209.4M384.5,87.0L389.3,88.0L392.7,85.5L396.3,87.2M395.1,103.3L399.9,98.7L397.8,96.7L397.2,91.9L396.3,87.2M389.2,93.3L388.9,89.3L384.5,87.0M358.8,121.0L361.3,123.2L363.5,124.0L364.4,124.6M366.1,127.6L365.1,128.0L363.8,130.2L365.2,130.8M364.4,124.6L366.9,125.0L366.1,127.6M352.7,135.5L354.3,136.4L356.3,136.6L357.7,137.2L359.6,137.2M365.2,130.8L364.7,132.3L365.2,134.0L365.9,134.7M369.2,213.0L371.3,213.2L373.7,213.0L375.8,213.3L378.0,213.9L378.0,213.2M371.0,224.7L373.0,222.0L375.3,221.3L375.8,218.8L375.0,214.7L373.7,213.0M331.6,193.9L335.9,193.4L339.1,193.9M351.3,199.2L351.3,196.6L355.6,196.4M350.9,207.7L351.6,201.8L351.3,199.2M334.0,196.8L335.9,194.7L339.1,193.9M392.3,139.4L392.6,140.8M228.9,183.7L228.9,187.3M230.3,187.7L228.9,189.8L228.6,190.2L227.6,191.5M269.3,207.5L270.1,208.8L270.8,209.9L270.4,212.8L270.7,213.9L272.4,214.8L275.2,213.7M274.4,206.2L273.3,208.3L275.2,213.7M253.7,180.2L253.6,183.2M231.3,192.8L233.4,190.9L235.6,189.6L237.4,189.0M378.7,129.6L381.9,130.8L384.1,130.2L387.7,127.0M379.4,126.8L381.9,127.2L386.6,126.1M345.0,113.4L343.8,114.8L346.4,115.3M486.7,175.8L486.2,173.0L485.5,172.8L484.8,174.3L484.5,172.6L485.5,171.5L486.2,170.2L485.0,169.8L482.7,169.6L482.5,168.1L480.8,167.5L480.1,168.7L481.0,169.8L480.7,171.5L481.4,173.8L481.4,175.6M481.0,164.3L481.3,165.8L482.5,167.0L484.2,166.8L485.8,166.8L485.8,165.5L485.2,164.9M493.3,164.1L492.6,165.3L490.2,167.2L489.3,169.8L488.8,172.2L487.6,172.2L487.2,174.5L486.7,175.8M470.2,160.4L468.8,163.0L470.5,164.1L473.3,165.7L475.2,165.8L476.9,167.2L478.9,167.5L480.1,167.5L480.3,165.7L480.1,164.7M451.9,172.6L452.8,171.5L455.9,171.3L455.3,168.9L454.6,167.2L453.8,166.4L455.2,164.5L457.2,164.7L458.5,162.8L459.3,160.9L460.9,158.9L461.0,157.2L462.0,156.4L460.9,155.5L460.2,154.7L460.6,153.4L460.0,152.5L461.0,151.7L462.7,152.1L464.3,150.6L465.5,150.4M418.8,147.2L419.8,150.9L420.6,155.3L422.9,158.9L424.0,160.9M421.2,162.4L422.9,160.6L423.3,160.8M410.3,154.3L413.4,157.0L418.6,162.3L421.2,162.4L422.9,163.6L423.9,163.6M441.6,161.1L442.7,158.1L441.2,154.0L442.0,150.2M442.6,169.8L443.9,164.0L441.6,161.1M442.0,150.2L440.3,146.6L436.1,145.3L431.8,146.8L431.7,147.0M405.6,154.7L405.6,161.7L407.0,161.7L409.1,159.8L407.7,157.9L410.8,156.6L410.3,154.3M461.0,157.2L462.0,156.4L463.7,156.2L465.3,156.2L466.4,156.2M414.7,209.8L413.4,212.0L413.4,219.0L414.2,220.3M410.8,226.2L408.6,223.1L403.3,219.2M451.7,140.0L453.1,141.5L455.9,140.0L458.7,140.2L460.0,142.5M504.8,190.2L505.5,190.2L507.8,189.8M534.1,146.2L534.8,145.9L535.4,145.1L536.7,145.1L537.2,144.5M421.5,125.9L424.2,121.9L429.0,119.7L433.9,121.5L438.9,121.9L442.3,119.3L440.7,115.3L444.6,114.2L453.1,112.9L459.3,116.3L463.7,115.5L465.8,118.0L469.4,121.2L473.6,121.2L476.5,124.0L479.0,124.7M421.5,125.9L422.6,127.8L424.7,129.8M430.4,137.9L434.7,139.4L434.7,132.5L438.2,131.3L441.7,133.6L443.2,135.3L447.4,135.3L448.8,138.1L451.7,140.0L453.1,138.5L455.9,136.6L460.4,135.7L468.9,136.4M500.0,175.1L499.4,175.1L499.6,177.3L498.7,177.0M339.0,204.3L340.1,201.7L341.8,201.3L343.1,202.8M393.6,273.1L395.0,271.8L396.8,272.0L397.0,273.7L395.1,275.0L393.6,273.1M385.1,111.6L387.9,111.2L393.0,112.3L388.6,115.7L387.6,114.8L385.3,113.2M389.7,108.2L394.1,108.9M390.9,157.7L390.7,175.8M390.7,175.8L390.7,179.6L389.3,179.6L389.3,180.5L377.8,173.2L375.1,174.7L372.2,173.0M368.8,160.2L369.9,157.5L371.6,154.9M352.7,151.1L352.9,154.5L350.2,157.5L347.8,160.8L343.0,163.2L343.0,165.1M343.0,165.1L336.7,165.1M393.0,126.3L395.3,126.4L397.7,129.6L395.3,131.5M384.9,140.2L387.7,139.4L387.2,137.6M339.0,193.9L343.3,196.0L343.7,198.3L344.5,198.1M498.7,177.0L497.1,176.8L495.9,175.6L496.3,174.1L495.2,172.2L493.6,172.2L493.7,170.2L495.2,168.5L495.2,165.5L494.4,165.1L493.3,164.1M495.0,198.6L495.9,196.8L496.4,194.9L495.9,193.0L495.7,191.3L494.9,190.0L494.4,188.6L495.0,187.0L495.4,186.2L493.9,184.1L493.7,182.4L494.2,180.2L495.4,180.0L496.3,179.2L497.1,178.8M479.7,124.6L483.5,122.5L485.7,121.5L489.9,123.1L494.2,122.3L494.9,119.3L499.8,120.2L502.7,122.1L506.2,122.5L509.0,124.4L511.9,124.6L517.4,122.5L520.7,123.4M348.5,170.2L346.1,170.4L347.5,186.6L339.1,188.3L338.0,189.8M338.0,189.8L332.1,186.4M403.3,235.6L402.3,240.9L402.1,243.7L403.8,245.6L404.9,249.3L406.0,247.6L405.3,243.7L404.3,239.0L403.5,235.2M224.7,190.0L224.7,188.6L225.4,187.0L227.2,187.0L227.2,183.7L228.9,183.7L230.2,182.4M517.0,208.6L518.3,208.1L518.8,209.2M497.1,178.8L498.7,177.0M385.1,251.2L385.1,258.8L383.6,258.8L383.6,264.0M383.6,264.0L383.6,270.8L378.7,271.2M361.4,181.1L360.0,188.5L356.6,189.0L355.6,189.4M360.4,195.2L361.1,191.9L364.9,192.6L369.5,192.4L373.2,192.6L375.3,192.6M377.3,173.9L377.5,179.6L375.0,191.9M359.1,205.2L359.3,200.3L360.4,195.2M367.3,208.6L369.2,204.5L371.9,204.1L374.4,197.7L375.8,193.2M233.9,196.4L235.8,196.6L236.7,196.8M396.3,87.2L399.1,85.9M371.2,106.1L373.0,102.3L372.3,97.6L375.8,93.8L378.0,89.5L381.5,88.2L384.5,87.0M470.2,160.4L471.9,160.6L473.3,161.7L474.6,163.0L476.9,164.1L478.4,164.6L480.1,164.7M433.5,174.5L434.4,171.9L434.7,171.1L435.1,170.2M256.7,237.9L258.0,241.1L257.0,246.3L257.1,249.9L256.4,250.7M256.3,225.2L252.0,227.3L250.6,231.1L252.4,235.2L255.3,235.2L255.3,238.0L256.7,237.9M256.4,250.7L255.5,251.9M387.3,124.7L389.3,122.1L388.6,119.3L388.6,115.7M383.1,114.8L387.6,114.8M376.6,121.0L378.7,122.7L381.9,124.0L387.3,124.7M555.1,222.2L555.1,234.5M277.9,265.6L278.4,262.5L276.7,261.6L276.2,259.3L273.3,259.0L273.3,255.4L272.8,254.6M427.3,170.6L427.7,170.9M384.1,130.2L385.6,132.9L387.5,134.0L390.7,134.9L394.8,134.4L395.8,134.9M393.0,126.3L395.3,131.5L397.2,131.9M382.2,130.8L382.8,135.1L384.3,137.8L387.0,137.6M395.0,105.3L394.1,108.9M394.1,108.9L395.3,111.4L399.1,112.5L400.4,117.2L399.7,119.1M396.4,222.6L398.4,221.6L398.9,219.9L397.2,219.8M428.4,171.5L429.8,174.1L433.5,174.5M429.0,181.5L433.2,179.6L434.2,175.8L433.5,174.5M415.9,186.4L418.4,184.5L422.6,184.3L424.7,182.2L429.0,181.5L430.1,184.7L430.5,185.8M403.8,198.5L405.6,193.7L407.0,190.3L407.6,186.2L410.0,183.4M388.5,196.8L392.9,199.4L397.8,198.8L402.1,194.7L403.8,198.5M374.7,131.5L374.7,129.6M374.6,131.5L377.4,130.6L378.7,129.6M480.1,164.7L481.0,164.3M336.6,200.3L337.9,198.6L339.4,198.5L340.1,201.7M338.0,189.8L339.0,193.9M417.2,196.8L419.5,201.7M275.2,213.7L278.8,213.2M278.8,206.4L278.2,209.4L278.8,213.2M403.8,198.5L403.6,201.3L404.9,207.9M404.9,207.9L403.3,209.4L398.9,210.5L394.1,207.7M228.6,190.2L230.6,191.1L230.9,192.0M415.4,147.4L413.7,152.5L410.3,154.3M406.0,155.7L410.3,154.3M406.2,152.1L407.2,152.8L406.0,154.5L405.6,154.7M399.2,265.7L400.6,266.1L400.6,268.4L399.2,268.4L399.2,265.7M377.3,203.2L381.5,200.3L387.7,197.5M389.3,180.5L386.5,187.7L387.7,191.7L386.6,193.5L388.5,196.8L387.7,197.5M357.0,205.8L356.0,203.4L355.6,196.4M504.8,190.2L503.8,190.2L502.2,190.2L501.1,190.5L500.4,191.7L500.7,193.4L501.4,196.2M497.1,178.8L497.9,179.4L497.7,180.5L498.7,180.5L498.4,182.6L498.6,184.3L500.0,183.0L501.3,183.4L501.8,182.6L502.7,182.8L503.7,184.5L503.8,186.4L504.9,187.9L504.8,190.2M500.0,205.6L498.6,206.6L497.1,205.0M532.3,234.3L532.6,235.0M451.4,147.4L451.7,143.8L454.5,141.5L459.7,143.0M442.0,150.2L443.6,150.8L446.7,148.9L449.5,146.8L451.4,147.4L453.5,147.4L456.6,145.9L461.4,146.8M414.1,139.1L416.9,139.8L418.8,142.5L417.9,147.2L415.4,147.4L413.1,147.4L409.9,148.1L407.3,147.9L406.6,149.6M412.5,237.1L408.4,239.2L404.3,239.0M397.0,232.9L399.2,233.5L401.9,235.0L403.3,235.6M399.7,119.1L404.0,120.6L405.6,122.3L409.4,123.2L412.0,123.8L411.6,127.2L409.4,128.5M387.3,124.7L387.7,127.0L393.0,126.3L395.3,129.6L396.1,131.9M403.3,219.2L398.8,219.2L397.2,219.8L397.7,216.4L399.7,213.2L398.9,210.5M403.3,209.4L404.9,214.5L403.3,219.2M181.0,124.9L220.5,124.9L220.5,124.2L221.0,125.5L223.5,125.7L225.8,126.7L228.3,126.8L230.2,126.3L234.9,128.0L235.4,129.6L237.0,130.8L238.4,131.9L238.5,136.2L237.5,137.9L238.4,138.7L241.9,137.6L243.4,136.4L243.1,135.5L246.9,134.0L249.5,132.5L254.0,132.5L255.1,131.7L256.1,129.6L257.2,128.0L258.5,128.1L259.2,128.5L259.2,131.2L260.2,132.9M155.5,86.0L155.5,103.6L158.3,104.0L160.5,106.1L163.3,104.6L166.3,107.2L168.7,110.6L171.1,111.9L170.2,114.2M189.4,156.0L192.8,155.7L198.0,158.3L202.0,158.3L202.0,157.4L204.4,157.4L207.2,161.5L209.3,162.6L211.5,161.1L214.3,165.5L217.6,168.5M273.7,274.2L276.5,275.5L279.1,277.6L279.6,280.8M434.7,139.4L436.1,139.4L438.2,137.0L440.5,138.3L443.2,141.9L446.0,143.8L449.5,146.8M269.3,207.5L266.5,209.8L263.5,209.6L264.6,213.0L261.8,215.8L260.5,215.0M270.3,201.3L268.3,206.2L269.3,207.5M500.0,175.1L500.8,174.5L501.7,174.3L502.7,174.5L503.4,174.3L504.5,173.4L505.2,174.1L506.5,174.3L506.4,175.3L507.5,176.6L508.2,176.8L509.0,176.4M503.4,197.7L504.2,196.8L505.8,196.6L506.1,195.2L507.8,194.1L507.6,191.9L507.8,189.8M507.8,189.8L507.8,188.6L507.5,187.0L506.8,186.0L506.2,184.5L504.9,183.0L504.2,182.1L502.5,180.9L503.4,180.2L503.9,179.0L503.2,178.1L502.0,178.3L501.3,177.7L501.0,176.4L500.0,175.1M399.7,259.5L400.5,263.1L401.9,267.8M386.5,241.8L386.5,247.8L388.5,250.5L391.2,250.9M398.4,246.7L402.1,243.7M391.2,250.9L396.1,248.0L398.4,246.7M398.4,246.7L401.9,248.8L401.4,257.5L399.7,259.5M397.0,259.1L399.7,259.5" fill="none" stroke="#555" stroke-width="0.6" stroke-linejoin="round"/><circle cx="502.5" cy="214.8" r="0.9" fill="#9fd3ef" stroke="#666" stroke-width="0.3"/>
</svg>
<div class="ab" style="left:25.3px;top:238.7px;width:14.5px;height:98px;background:linear-gradient(#3f9dd4 0%,#5cb3e1 30%,#78c5ea 55%,#acdcf2 80%,#e4f5fc 100%)"></div>
<div class="ab" style="left:25px;top:221.6px;width:15px;text-align:center;font-size:9.5px;line-height:11px;color:#555">129</div>
<div class="ab" style="left:25px;top:342.1px;width:15px;text-align:center;font-size:9.5px;line-height:11px;color:#555">5</div>
<div class="ttl" style="left:35.5px;top:378.5px">占比分析</div>
<div class="ttl" style="left:418.6px;top:378.1px;font-size:10.2px">TOP 10</div>
<svg width="719" height="650" viewBox="0 0 719 650" style="pointer-events:none">
<path d="M199.00,437.60A80.6,80.6 0 0 1 253.54,577.54L239.33,562.08A59.6,59.6 0 0 0 199.00,458.60Z" fill="#26a0db"/>
<path d="M253.54,577.54A80.6,80.6 0 0 1 127.28,554.97L145.96,545.39A59.6,59.6 0 0 0 239.33,562.08Z" fill="#48a6b7"/>
<path d="M127.28,554.97A80.6,80.6 0 0 1 118.82,509.96L139.71,512.11A59.6,59.6 0 0 0 145.96,545.39Z" fill="#6a8aa4"/>
<path d="M118.82,509.96A80.6,80.6 0 0 1 125.35,485.45L144.54,493.98A59.6,59.6 0 0 0 139.71,512.11Z" fill="#ecb61c"/>
<path d="M125.35,485.45A80.6,80.6 0 0 1 137.22,466.43L153.32,479.92A59.6,59.6 0 0 0 144.54,493.98Z" fill="#4573c5"/>
<path d="M137.22,466.43A80.6,80.6 0 0 1 149.00,454.98L162.03,471.45A59.6,59.6 0 0 0 153.32,479.92Z" fill="#71ad47"/>
<path d="M149.00,454.98A80.6,80.6 0 0 1 158.93,448.26L169.37,466.49A59.6,59.6 0 0 0 162.03,471.45Z" fill="#265f92"/>
<path d="M158.93,448.26A80.6,80.6 0 0 1 168.34,443.66L176.33,463.08A59.6,59.6 0 0 0 169.37,466.49Z" fill="#c6a69b"/>
<path d="M168.34,443.66A80.6,80.6 0 0 1 178.27,440.31L183.67,460.61A59.6,59.6 0 0 0 176.33,463.08Z" fill="#707174"/>
<path d="M178.27,440.31A80.6,80.6 0 0 1 185.59,438.72L189.09,459.43A59.6,59.6 0 0 0 183.67,460.61Z" fill="#56636f"/>
<path d="M185.59,438.72A80.6,80.6 0 0 1 199.00,437.60L199.00,458.60A59.6,59.6 0 0 0 189.09,459.43Z" fill="#c6ccd3"/>
<path d="M274.4,488.4 L282.2,485.0 L292.6,485.0" fill="none" stroke="#26a0db" stroke-width="0.75"/>
<text x="295.1" y="483.2" text-anchor="start" fill="#26a0db" class="pl">印度</text>
<text x="294.9" y="491.2" text-anchor="start" fill="#26a0db" class="pp" textLength="29.3" lengthAdjust="spacingAndGlyphs">38.17%</text>
<path d="M185.0,597.4 L163.3,607.9 L153.4,607.9" fill="none" stroke="#48a6b7" stroke-width="0.75"/>
<text x="151.5" y="606.4" text-anchor="end" fill="#48a6b7" class="pl">中国</text>
<text x="151.6" y="614.1" text-anchor="end" fill="#48a6b7" class="pp" textLength="29.9" lengthAdjust="spacingAndGlyphs">29.29%</text>
<path d="M119.7,532.9 L115.1,549.3 L104.4,549.3" fill="none" stroke="#7690a8" stroke-width="0.75"/>
<text x="101.9" y="547.4" text-anchor="end" fill="#7690a8" class="pl">新加坡</text>
<text x="102.0" y="556.2" text-anchor="end" fill="#7690a8" class="pp" textLength="24.6" lengthAdjust="spacingAndGlyphs">9.17%</text>
<path d="M119.9,503.8 L110.5,530.3 L100.1,530.3" fill="none" stroke="#e9b31e" stroke-width="0.75"/>
<text x="97.8" y="528.5" text-anchor="end" fill="#e9b31e" class="pl">巴西</text>
<text x="97.9" y="536.6" text-anchor="end" fill="#e9b31e" class="pp" textLength="24.4" lengthAdjust="spacingAndGlyphs">5.03%</text>
<path d="M125.8,485.9 L110.5,512.7 L99.0,512.7" fill="none" stroke="#4a74c2" stroke-width="0.75"/>
<text x="97.8" y="510.8" text-anchor="end" fill="#4a74c2" class="pl">泰国</text>
<text x="97.9" y="518.9" text-anchor="end" fill="#4a74c2" class="pp" textLength="24.7" lengthAdjust="spacingAndGlyphs">4.44%</text>
<path d="M131.9,473.7 L112.8,495.4 L102.0,495.4" fill="none" stroke="#76b04f" stroke-width="0.75"/>
<text x="100.1" y="493.2" text-anchor="end" fill="#76b04f" class="pl">越南</text>
<text x="100.2" y="501.1" text-anchor="end" fill="#76b04f" class="pp" textLength="24.8" lengthAdjust="spacingAndGlyphs">3.25%</text>
<path d="M139.6,459.9 L118.9,479.0 L107.4,479.0" fill="none" stroke="#3d6b98" stroke-width="0.75"/>
<text x="105.4" y="477.2" text-anchor="end" fill="#3d6b98" class="pl">阿曼</text>
<text x="105.5" y="485.0" text-anchor="end" fill="#3d6b98" class="pp" textLength="24.7" lengthAdjust="spacingAndGlyphs">2.37%</text>
<path d="M151.8,449.2 L127.3,462.2 L116.6,462.2" fill="none" stroke="#c4a396" stroke-width="0.75"/>
<text x="114.2" y="460.4" text-anchor="end" fill="#c4a396" class="pl">西班牙</text>
<text x="114.3" y="468.2" text-anchor="end" fill="#c4a396" class="pp" textLength="25.1" lengthAdjust="spacingAndGlyphs">2.07%</text>
<path d="M172.5,441.8 L141.0,445.3 L130.6,445.3" fill="none" stroke="#76787b" stroke-width="0.75"/>
<text x="127.8" y="443.2" text-anchor="end" fill="#76787b" class="pl">韩国</text>
<text x="127.9" y="451.2" text-anchor="end" fill="#76787b" class="pp" textLength="24.2" lengthAdjust="spacingAndGlyphs">2.07%</text>
<path d="M183.4,439.4 L164.3,428.4 L153.5,428.4" fill="none" stroke="#5b6873" stroke-width="0.75"/>
<text x="151.3" y="426.1" text-anchor="end" fill="#5b6873" class="pl">中国(香港)</text>
<text x="151.4" y="434.7" text-anchor="end" fill="#5b6873" class="pp" textLength="24.5" lengthAdjust="spacingAndGlyphs">1.48%</text>
<path d="M192.6,437.5 L191.0,411.0 L179.6,411.0" fill="none" stroke="#c3c8cf" stroke-width="0.75"/>
<text x="177.3" y="409.7" text-anchor="end" fill="#c3c8cf" class="pl">其他</text>
<text x="176.9" y="417.9" text-anchor="end" fill="#c3c8cf" class="pp" textLength="24.7" lengthAdjust="spacingAndGlyphs">2.66%</text>
</svg>
<div class="ab" style="left:391px;top:430px;width:303px;height:18.3px;border:2px solid #e8393c"></div>
<div class="rk" style="top:411.00px"><b>1.</b> <span>印度</span></div>
<div class="bar" style="top:415.00px;width:126.50px"></div>
<div class="val" style="top:411.00px">129</div>
<div class="rk" style="top:434.78px"><b>2.</b> <span>中国</span></div>
<div class="bar" style="top:438.78px;width:97.08px"></div>
<div class="val" style="top:434.78px">99</div>
<div class="rk" style="top:458.56px"><b>3.</b> <span>新加坡</span></div>
<div class="bar" style="top:462.56px;width:30.40px"></div>
<div class="val" style="top:458.56px">31</div>
<div class="rk" style="top:482.34px"><b>4.</b> <span>巴西</span></div>
<div class="bar" style="top:486.34px;width:16.67px"></div>
<div class="val" style="top:482.34px">17</div>
<div class="rk" style="top:506.12px"><b>5.</b> <span>泰国</span></div>
<div class="bar" style="top:510.12px;width:14.71px"></div>
<div class="val" style="top:506.12px">15</div>
<div class="rk" style="top:529.90px"><b>6.</b> <span>越南</span></div>
<div class="bar" style="top:533.90px;width:10.79px"></div>
<div class="val" style="top:529.90px">11</div>
<div class="rk" style="top:553.68px"><b>7.</b> <span>阿曼</span></div>
<div class="bar" style="top:557.68px;width:7.84px"></div>
<div class="val" style="top:553.68px">8</div>
<div class="rk" style="top:577.46px"><b>8.</b> <span>西班牙</span></div>
<div class="bar" style="top:581.46px;width:6.86px"></div>
<div class="val" style="top:577.46px">7</div>
<div class="rk" style="top:601.24px"><b>9.</b> <span>韩国</span></div>
<div class="bar" style="top:605.24px;width:6.86px"></div>
<div class="val" style="top:601.24px">7</div>
<div class="rk" style="top:625.02px"><b>10.</b> <span>中国(香港)</span></div>
<div class="bar" style="top:629.02px;width:4.90px"></div>
<div class="val" style="top:625.02px">5</div>
</body></html>
